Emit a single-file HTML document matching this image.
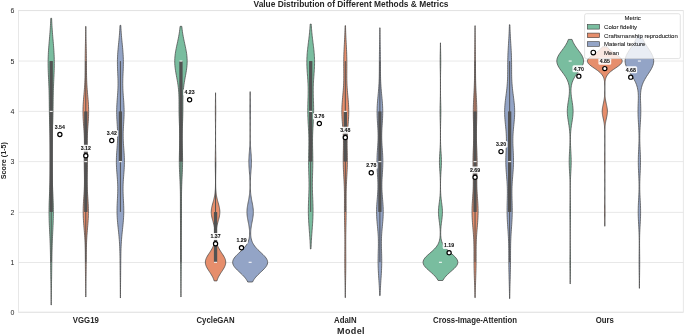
<!DOCTYPE html>
<html><head><meta charset="utf-8"><style>
html,body{margin:0;padding:0;background:#fff;}
svg{display:block;filter:blur(0.3px);}
text{font-family:"Liberation Sans",Arial,sans-serif;fill:#262626;}
.tk{font-size:7px;}
.xt{font-size:7.8px;font-weight:bold;text-anchor:middle;}
.ttl{font-size:8.4px;font-weight:bold;text-anchor:middle;}
.lab{font-size:8.8px;font-weight:bold;text-anchor:middle;}
.ml{font-size:5.2px;font-weight:bold;text-anchor:middle;fill:#111;stroke:#111;stroke-width:0.08px;}
.lg{font-size:6px;fill:#1a1a1a;stroke:#1a1a1a;stroke-width:0.08px;}
</style></head><body>
<svg width="685" height="335" viewBox="0 0 685 335">
<rect x="0" y="0" width="685" height="335" fill="#fff"/>
<line x1="18.4" x2="683.3" y1="312.25" y2="312.25" stroke="#e2e2e2" stroke-width="0.8"/>
<text x="14.3" y="314.75" text-anchor="end" class="tk">0</text>
<line x1="18.4" x2="683.3" y1="262.50" y2="262.50" stroke="#e2e2e2" stroke-width="0.8"/>
<text x="14.3" y="265.00" text-anchor="end" class="tk">1</text>
<line x1="18.4" x2="683.3" y1="212.40" y2="212.40" stroke="#e2e2e2" stroke-width="0.8"/>
<text x="14.3" y="214.90" text-anchor="end" class="tk">2</text>
<line x1="18.4" x2="683.3" y1="161.60" y2="161.60" stroke="#e2e2e2" stroke-width="0.8"/>
<text x="14.3" y="164.10" text-anchor="end" class="tk">3</text>
<line x1="18.4" x2="683.3" y1="111.40" y2="111.40" stroke="#e2e2e2" stroke-width="0.8"/>
<text x="14.3" y="113.90" text-anchor="end" class="tk">4</text>
<line x1="18.4" x2="683.3" y1="61.06" y2="61.06" stroke="#e2e2e2" stroke-width="0.8"/>
<text x="14.3" y="63.56" text-anchor="end" class="tk">5</text>
<line x1="18.4" x2="683.3" y1="10.60" y2="10.60" stroke="#e2e2e2" stroke-width="0.8"/>
<text x="14.3" y="13.10" text-anchor="end" class="tk">6</text>
<rect x="18.4" y="10.6" width="664.9" height="301.65" fill="none" stroke="#e2e2e2" stroke-width="0.8"/>
<path d="M51.27,305.05 L51.28,303.25 L51.29,301.45 L51.31,299.64 L51.33,297.84 L51.34,296.04 L51.37,294.23 L51.39,292.43 L51.41,290.62 L51.43,288.82 L51.46,287.02 L51.49,285.21 L51.51,283.41 L51.54,281.61 L51.57,279.80 L51.60,278.00 L51.63,276.20 L51.66,274.39 L51.68,272.59 L51.71,270.79 L51.74,268.98 L51.76,267.18 L51.79,265.38 L51.81,263.57 L51.84,261.77 L51.87,259.96 L51.89,258.16 L51.92,256.36 L51.96,254.55 L51.99,252.75 L52.03,250.95 L52.08,249.14 L52.13,247.34 L52.18,245.54 L52.24,243.73 L52.31,241.93 L52.38,240.13 L52.45,238.32 L52.53,236.52 L52.61,234.71 L52.70,232.91 L52.78,231.11 L52.87,229.30 L52.95,227.50 L53.03,225.70 L53.11,223.89 L53.17,222.09 L53.23,220.29 L53.28,218.48 L53.32,216.68 L53.35,214.88 L53.37,213.07 L53.37,211.27 L53.36,209.46 L53.34,207.66 L53.30,205.86 L53.26,204.05 L53.20,202.25 L53.14,200.45 L53.07,198.64 L52.99,196.84 L52.92,195.04 L52.84,193.23 L52.75,191.43 L52.67,189.63 L52.60,187.82 L52.52,186.02 L52.45,184.21 L52.39,182.41 L52.33,180.61 L52.28,178.80 L52.23,177.00 L52.19,175.20 L52.15,173.39 L52.12,171.59 L52.10,169.79 L52.08,167.98 L52.06,166.18 L52.05,164.38 L52.04,162.57 L52.03,160.77 L52.03,158.96 L52.03,157.16 L52.03,155.36 L52.04,153.55 L52.05,151.75 L52.06,149.95 L52.08,148.14 L52.10,146.34 L52.13,144.54 L52.16,142.73 L52.20,140.93 L52.24,139.13 L52.29,137.32 L52.34,135.52 L52.39,133.71 L52.45,131.91 L52.51,130.11 L52.57,128.30 L52.63,126.50 L52.69,124.70 L52.75,122.89 L52.80,121.09 L52.85,119.29 L52.90,117.48 L52.94,115.68 L52.98,113.88 L53.01,112.07 L53.04,110.27 L53.07,108.46 L53.09,106.66 L53.11,104.86 L53.13,103.05 L53.15,101.25 L53.18,99.45 L53.20,97.64 L53.23,95.84 L53.27,94.04 L53.31,92.23 L53.36,90.43 L53.42,88.63 L53.48,86.82 L53.55,85.02 L53.63,83.21 L53.71,81.41 L53.79,79.61 L53.87,77.80 L53.96,76.00 L54.04,74.20 L54.11,72.39 L54.18,70.59 L54.23,68.79 L54.27,66.98 L54.30,65.18 L54.31,63.38 L54.31,61.57 L54.28,59.77 L54.24,57.96 L54.18,56.16 L54.10,54.36 L54.01,52.55 L53.90,50.75 L53.78,48.95 L53.65,47.14 L53.50,45.34 L53.36,43.54 L53.20,41.73 L53.05,39.93 L52.89,38.13 L52.74,36.32 L52.59,34.52 L52.45,32.72 L52.31,30.91 L52.18,29.11 L52.06,27.30 L51.95,25.50 L51.85,23.70 L51.76,21.89 L51.68,20.09 L51.61,18.29 L50.79,18.29 L50.72,20.09 L50.64,21.89 L50.55,23.70 L50.45,25.50 L50.34,27.30 L50.22,29.11 L50.09,30.91 L49.95,32.72 L49.81,34.52 L49.66,36.32 L49.51,38.13 L49.35,39.93 L49.20,41.73 L49.04,43.54 L48.90,45.34 L48.75,47.14 L48.62,48.95 L48.50,50.75 L48.39,52.55 L48.30,54.36 L48.22,56.16 L48.16,57.96 L48.12,59.77 L48.09,61.57 L48.09,63.38 L48.10,65.18 L48.13,66.98 L48.17,68.79 L48.22,70.59 L48.29,72.39 L48.36,74.20 L48.44,76.00 L48.53,77.80 L48.61,79.61 L48.69,81.41 L48.77,83.21 L48.85,85.02 L48.92,86.82 L48.98,88.63 L49.04,90.43 L49.09,92.23 L49.13,94.04 L49.17,95.84 L49.20,97.64 L49.22,99.45 L49.25,101.25 L49.27,103.05 L49.29,104.86 L49.31,106.66 L49.33,108.46 L49.36,110.27 L49.39,112.07 L49.42,113.88 L49.46,115.68 L49.50,117.48 L49.55,119.29 L49.60,121.09 L49.65,122.89 L49.71,124.70 L49.77,126.50 L49.83,128.30 L49.89,130.11 L49.95,131.91 L50.01,133.71 L50.06,135.52 L50.11,137.32 L50.16,139.13 L50.20,140.93 L50.24,142.73 L50.27,144.54 L50.30,146.34 L50.32,148.14 L50.34,149.95 L50.35,151.75 L50.36,153.55 L50.37,155.36 L50.37,157.16 L50.37,158.96 L50.37,160.77 L50.36,162.57 L50.35,164.38 L50.34,166.18 L50.32,167.98 L50.30,169.79 L50.28,171.59 L50.25,173.39 L50.21,175.20 L50.17,177.00 L50.12,178.80 L50.07,180.61 L50.01,182.41 L49.95,184.21 L49.88,186.02 L49.80,187.82 L49.73,189.63 L49.65,191.43 L49.56,193.23 L49.48,195.04 L49.41,196.84 L49.33,198.64 L49.26,200.45 L49.20,202.25 L49.14,204.05 L49.10,205.86 L49.06,207.66 L49.04,209.46 L49.03,211.27 L49.03,213.07 L49.05,214.88 L49.08,216.68 L49.12,218.48 L49.17,220.29 L49.23,222.09 L49.29,223.89 L49.37,225.70 L49.45,227.50 L49.53,229.30 L49.62,231.11 L49.70,232.91 L49.79,234.71 L49.87,236.52 L49.95,238.32 L50.02,240.13 L50.09,241.93 L50.16,243.73 L50.22,245.54 L50.27,247.34 L50.32,249.14 L50.37,250.95 L50.41,252.75 L50.44,254.55 L50.48,256.36 L50.51,258.16 L50.53,259.96 L50.56,261.77 L50.59,263.57 L50.61,265.38 L50.64,267.18 L50.66,268.98 L50.69,270.79 L50.72,272.59 L50.74,274.39 L50.77,276.20 L50.80,278.00 L50.83,279.80 L50.86,281.61 L50.89,283.41 L50.91,285.21 L50.94,287.02 L50.97,288.82 L50.99,290.62 L51.01,292.43 L51.03,294.23 L51.06,296.04 L51.07,297.84 L51.09,299.64 L51.11,301.45 L51.12,303.25 L51.13,305.05 Z" fill="#79bd9f" stroke="#4a4a4a" stroke-width="0.75" stroke-linejoin="round"/>
<line x1="51.20" x2="51.20" y1="61.05" y2="262.29" stroke="#525252" stroke-width="1.0"/>
<line x1="51.20" x2="51.20" y1="61.05" y2="211.98" stroke="#525252" stroke-width="3.3"/>
<line x1="49.70" x2="52.70" y1="111.36" y2="111.36" stroke="#ffffff" stroke-width="1.0"/>
<path d="M85.85,297.00 L85.87,295.30 L85.88,293.60 L85.89,291.90 L85.91,290.19 L85.93,288.49 L85.95,286.79 L85.97,285.09 L85.99,283.39 L86.02,281.68 L86.04,279.98 L86.06,278.28 L86.09,276.58 L86.11,274.87 L86.13,273.17 L86.16,271.47 L86.17,269.77 L86.19,268.06 L86.21,266.36 L86.22,264.66 L86.23,262.96 L86.25,261.26 L86.26,259.55 L86.27,257.85 L86.28,256.15 L86.29,254.45 L86.31,252.74 L86.33,251.04 L86.36,249.34 L86.40,247.64 L86.44,245.93 L86.50,244.23 L86.56,242.53 L86.64,240.83 L86.73,239.13 L86.83,237.42 L86.94,235.72 L87.07,234.02 L87.20,232.32 L87.34,230.61 L87.48,228.91 L87.62,227.21 L87.76,225.51 L87.90,223.80 L88.02,222.10 L88.14,220.40 L88.24,218.70 L88.32,217.00 L88.38,215.29 L88.41,213.59 L88.43,211.89 L88.42,210.19 L88.39,208.48 L88.34,206.78 L88.27,205.08 L88.18,203.38 L88.09,201.67 L87.98,199.97 L87.87,198.27 L87.75,196.57 L87.64,194.87 L87.53,193.16 L87.44,191.46 L87.35,189.76 L87.28,188.06 L87.22,186.35 L87.18,184.65 L87.15,182.95 L87.14,181.25 L87.14,179.54 L87.15,177.84 L87.17,176.14 L87.20,174.44 L87.23,172.74 L87.27,171.03 L87.30,169.33 L87.33,167.63 L87.35,165.93 L87.37,164.22 L87.38,162.52 L87.38,160.82 L87.37,159.12 L87.36,157.41 L87.33,155.71 L87.31,154.01 L87.28,152.31 L87.25,150.60 L87.22,148.90 L87.19,147.20 L87.18,145.50 L87.17,143.80 L87.18,142.09 L87.20,140.39 L87.24,138.69 L87.29,136.99 L87.36,135.28 L87.44,133.58 L87.54,131.88 L87.65,130.18 L87.76,128.47 L87.89,126.77 L88.01,125.07 L88.14,123.37 L88.25,121.67 L88.36,119.96 L88.46,118.26 L88.53,116.56 L88.59,114.86 L88.62,113.15 L88.63,111.45 L88.62,109.75 L88.58,108.05 L88.51,106.34 L88.43,104.64 L88.33,102.94 L88.21,101.24 L88.07,99.54 L87.93,97.83 L87.78,96.13 L87.64,94.43 L87.49,92.73 L87.34,91.02 L87.21,89.32 L87.08,87.62 L86.97,85.92 L86.87,84.21 L86.78,82.51 L86.71,80.81 L86.65,79.11 L86.60,77.41 L86.56,75.70 L86.53,74.00 L86.51,72.30 L86.49,70.60 L86.48,68.89 L86.47,67.19 L86.47,65.49 L86.46,63.79 L86.45,62.08 L86.44,60.38 L86.42,58.68 L86.40,56.98 L86.38,55.28 L86.36,53.57 L86.33,51.87 L86.30,50.17 L86.27,48.47 L86.23,46.76 L86.19,45.06 L86.16,43.36 L86.12,41.66 L86.09,39.95 L86.05,38.25 L86.02,36.55 L85.99,34.85 L85.96,33.15 L85.94,31.44 L85.92,29.74 L85.90,28.04 L85.88,26.34 L85.72,26.34 L85.70,28.04 L85.68,29.74 L85.66,31.44 L85.64,33.15 L85.61,34.85 L85.58,36.55 L85.55,38.25 L85.51,39.95 L85.48,41.66 L85.44,43.36 L85.41,45.06 L85.37,46.76 L85.33,48.47 L85.30,50.17 L85.27,51.87 L85.24,53.57 L85.22,55.28 L85.20,56.98 L85.18,58.68 L85.16,60.38 L85.15,62.08 L85.14,63.79 L85.13,65.49 L85.13,67.19 L85.12,68.89 L85.11,70.60 L85.09,72.30 L85.07,74.00 L85.04,75.70 L85.00,77.41 L84.95,79.11 L84.89,80.81 L84.82,82.51 L84.73,84.21 L84.63,85.92 L84.52,87.62 L84.39,89.32 L84.26,91.02 L84.11,92.73 L83.96,94.43 L83.82,96.13 L83.67,97.83 L83.53,99.54 L83.39,101.24 L83.27,102.94 L83.17,104.64 L83.09,106.34 L83.02,108.05 L82.98,109.75 L82.97,111.45 L82.98,113.15 L83.01,114.86 L83.07,116.56 L83.14,118.26 L83.24,119.96 L83.35,121.67 L83.46,123.37 L83.59,125.07 L83.71,126.77 L83.84,128.47 L83.95,130.18 L84.06,131.88 L84.16,133.58 L84.24,135.28 L84.31,136.99 L84.36,138.69 L84.40,140.39 L84.42,142.09 L84.43,143.80 L84.42,145.50 L84.41,147.20 L84.38,148.90 L84.35,150.60 L84.32,152.31 L84.29,154.01 L84.27,155.71 L84.24,157.41 L84.23,159.12 L84.22,160.82 L84.22,162.52 L84.23,164.22 L84.25,165.93 L84.27,167.63 L84.30,169.33 L84.33,171.03 L84.37,172.74 L84.40,174.44 L84.43,176.14 L84.45,177.84 L84.46,179.54 L84.46,181.25 L84.45,182.95 L84.42,184.65 L84.38,186.35 L84.32,188.06 L84.25,189.76 L84.16,191.46 L84.07,193.16 L83.96,194.87 L83.85,196.57 L83.73,198.27 L83.62,199.97 L83.51,201.67 L83.42,203.38 L83.33,205.08 L83.26,206.78 L83.21,208.48 L83.18,210.19 L83.17,211.89 L83.19,213.59 L83.22,215.29 L83.28,217.00 L83.36,218.70 L83.46,220.40 L83.58,222.10 L83.70,223.80 L83.84,225.51 L83.98,227.21 L84.12,228.91 L84.26,230.61 L84.40,232.32 L84.53,234.02 L84.66,235.72 L84.77,237.42 L84.87,239.13 L84.96,240.83 L85.04,242.53 L85.10,244.23 L85.16,245.93 L85.20,247.64 L85.24,249.34 L85.27,251.04 L85.29,252.74 L85.31,254.45 L85.32,256.15 L85.33,257.85 L85.34,259.55 L85.35,261.26 L85.37,262.96 L85.38,264.66 L85.39,266.36 L85.41,268.06 L85.43,269.77 L85.44,271.47 L85.47,273.17 L85.49,274.87 L85.51,276.58 L85.54,278.28 L85.56,279.98 L85.58,281.68 L85.61,283.39 L85.63,285.09 L85.65,286.79 L85.67,288.49 L85.69,290.19 L85.71,291.90 L85.72,293.60 L85.73,295.30 L85.75,297.00 Z" fill="#e68e6c" stroke="#4a4a4a" stroke-width="0.75" stroke-linejoin="round"/>
<line x1="85.80" x2="85.80" y1="61.05" y2="262.29" stroke="#525252" stroke-width="1.0"/>
<line x1="85.80" x2="85.80" y1="111.36" y2="211.98" stroke="#525252" stroke-width="3.3"/>
<line x1="84.30" x2="87.30" y1="161.67" y2="161.67" stroke="#ffffff" stroke-width="1.0"/>
<path d="M120.44,298.01 L120.45,296.30 L120.46,294.58 L120.47,292.87 L120.48,291.15 L120.49,289.44 L120.51,287.72 L120.52,286.01 L120.54,284.29 L120.56,282.58 L120.58,280.86 L120.59,279.15 L120.61,277.43 L120.63,275.72 L120.65,274.00 L120.67,272.29 L120.68,270.57 L120.70,268.86 L120.72,267.14 L120.73,265.43 L120.75,263.71 L120.77,262.00 L120.78,260.28 L120.80,258.57 L120.83,256.85 L120.85,255.14 L120.89,253.42 L120.93,251.71 L120.98,249.99 L121.04,248.28 L121.11,246.56 L121.19,244.85 L121.29,243.13 L121.40,241.42 L121.52,239.70 L121.66,237.99 L121.81,236.27 L121.98,234.56 L122.15,232.84 L122.33,231.13 L122.51,229.41 L122.69,227.70 L122.87,225.98 L123.04,224.27 L123.21,222.55 L123.35,220.84 L123.48,219.12 L123.59,217.41 L123.68,215.69 L123.74,213.98 L123.78,212.26 L123.79,210.55 L123.77,208.83 L123.74,207.12 L123.68,205.40 L123.61,203.69 L123.53,201.97 L123.44,200.26 L123.35,198.54 L123.26,196.83 L123.19,195.11 L123.13,193.40 L123.08,191.68 L123.06,189.97 L123.05,188.25 L123.08,186.54 L123.12,184.82 L123.19,183.11 L123.28,181.39 L123.39,179.68 L123.51,177.96 L123.65,176.25 L123.78,174.53 L123.92,172.82 L124.05,171.10 L124.16,169.39 L124.26,167.67 L124.34,165.96 L124.40,164.24 L124.43,162.53 L124.43,160.81 L124.40,159.10 L124.35,157.38 L124.27,155.67 L124.18,153.95 L124.07,152.24 L123.94,150.52 L123.82,148.81 L123.69,147.09 L123.56,145.38 L123.45,143.66 L123.35,141.95 L123.27,140.23 L123.22,138.52 L123.19,136.80 L123.18,135.09 L123.20,133.37 L123.24,131.66 L123.30,129.94 L123.38,128.23 L123.48,126.51 L123.58,124.80 L123.69,123.08 L123.79,121.37 L123.89,119.65 L123.98,117.94 L124.05,116.22 L124.10,114.51 L124.12,112.79 L124.13,111.08 L124.11,109.36 L124.06,107.65 L123.99,105.93 L123.90,104.22 L123.80,102.50 L123.68,100.79 L123.55,99.07 L123.42,97.36 L123.29,95.64 L123.17,93.93 L123.06,92.21 L122.97,90.50 L122.89,88.78 L122.83,87.07 L122.80,85.35 L122.78,83.64 L122.79,81.92 L122.82,80.21 L122.86,78.49 L122.92,76.78 L122.99,75.06 L123.06,73.35 L123.14,71.63 L123.21,69.92 L123.27,68.20 L123.32,66.49 L123.36,64.77 L123.37,63.06 L123.37,61.34 L123.35,59.63 L123.30,57.91 L123.23,56.20 L123.13,54.48 L123.02,52.77 L122.89,51.05 L122.75,49.34 L122.59,47.62 L122.43,45.91 L122.26,44.19 L122.09,42.48 L121.92,40.76 L121.76,39.05 L121.60,37.33 L121.45,35.62 L121.31,33.90 L121.19,32.19 L121.07,30.47 L120.97,28.76 L120.87,27.04 L120.79,25.33 L120.01,25.33 L119.93,27.04 L119.83,28.76 L119.73,30.47 L119.61,32.19 L119.49,33.90 L119.35,35.62 L119.20,37.33 L119.04,39.05 L118.88,40.76 L118.71,42.48 L118.54,44.19 L118.37,45.91 L118.21,47.62 L118.05,49.34 L117.91,51.05 L117.78,52.77 L117.67,54.48 L117.57,56.20 L117.50,57.91 L117.45,59.63 L117.43,61.34 L117.43,63.06 L117.44,64.77 L117.48,66.49 L117.53,68.20 L117.59,69.92 L117.66,71.63 L117.74,73.35 L117.81,75.06 L117.88,76.78 L117.94,78.49 L117.98,80.21 L118.01,81.92 L118.02,83.64 L118.00,85.35 L117.97,87.07 L117.91,88.78 L117.83,90.50 L117.74,92.21 L117.63,93.93 L117.51,95.64 L117.38,97.36 L117.25,99.07 L117.12,100.79 L117.00,102.50 L116.90,104.22 L116.81,105.93 L116.74,107.65 L116.69,109.36 L116.67,111.08 L116.68,112.79 L116.70,114.51 L116.75,116.22 L116.82,117.94 L116.91,119.65 L117.01,121.37 L117.11,123.08 L117.22,124.80 L117.32,126.51 L117.42,128.23 L117.50,129.94 L117.56,131.66 L117.60,133.37 L117.62,135.09 L117.61,136.80 L117.58,138.52 L117.53,140.23 L117.45,141.95 L117.35,143.66 L117.24,145.38 L117.11,147.09 L116.98,148.81 L116.86,150.52 L116.73,152.24 L116.62,153.95 L116.53,155.67 L116.45,157.38 L116.40,159.10 L116.37,160.81 L116.37,162.53 L116.40,164.24 L116.46,165.96 L116.54,167.67 L116.64,169.39 L116.75,171.10 L116.88,172.82 L117.02,174.53 L117.15,176.25 L117.29,177.96 L117.41,179.68 L117.52,181.39 L117.61,183.11 L117.68,184.82 L117.72,186.54 L117.75,188.25 L117.74,189.97 L117.72,191.68 L117.67,193.40 L117.61,195.11 L117.54,196.83 L117.45,198.54 L117.36,200.26 L117.27,201.97 L117.19,203.69 L117.12,205.40 L117.06,207.12 L117.03,208.83 L117.01,210.55 L117.02,212.26 L117.06,213.98 L117.12,215.69 L117.21,217.41 L117.32,219.12 L117.45,220.84 L117.59,222.55 L117.76,224.27 L117.93,225.98 L118.11,227.70 L118.29,229.41 L118.47,231.13 L118.65,232.84 L118.82,234.56 L118.99,236.27 L119.14,237.99 L119.28,239.70 L119.40,241.42 L119.51,243.13 L119.61,244.85 L119.69,246.56 L119.76,248.28 L119.82,249.99 L119.87,251.71 L119.91,253.42 L119.95,255.14 L119.97,256.85 L120.00,258.57 L120.02,260.28 L120.03,262.00 L120.05,263.71 L120.07,265.43 L120.08,267.14 L120.10,268.86 L120.12,270.57 L120.13,272.29 L120.15,274.00 L120.17,275.72 L120.19,277.43 L120.21,279.15 L120.22,280.86 L120.24,282.58 L120.26,284.29 L120.28,286.01 L120.29,287.72 L120.31,289.44 L120.32,291.15 L120.33,292.87 L120.34,294.58 L120.35,296.30 L120.36,298.01 Z" fill="#93a4c6" stroke="#4a4a4a" stroke-width="0.75" stroke-linejoin="round"/>
<line x1="120.40" x2="120.40" y1="61.05" y2="211.98" stroke="#525252" stroke-width="1.0"/>
<line x1="120.40" x2="120.40" y1="111.36" y2="161.67" stroke="#525252" stroke-width="3.3"/>
<line x1="118.90" x2="121.90" y1="161.67" y2="161.67" stroke="#ffffff" stroke-width="1.0"/>
<path d="M180.99,297.00 L181.00,295.30 L181.01,293.60 L181.02,291.90 L181.03,290.19 L181.05,288.49 L181.06,286.79 L181.08,285.09 L181.09,283.39 L181.11,281.68 L181.13,279.98 L181.15,278.28 L181.16,276.58 L181.18,274.87 L181.20,273.17 L181.21,271.47 L181.23,269.77 L181.24,268.06 L181.25,266.36 L181.25,264.66 L181.26,262.96 L181.26,261.26 L181.26,259.55 L181.26,257.85 L181.25,256.15 L181.25,254.45 L181.24,252.74 L181.23,251.04 L181.23,249.34 L181.22,247.64 L181.22,245.93 L181.21,244.23 L181.21,242.53 L181.22,240.83 L181.22,239.13 L181.23,237.42 L181.24,235.72 L181.25,234.02 L181.27,232.32 L181.29,230.61 L181.31,228.91 L181.33,227.21 L181.35,225.51 L181.37,223.80 L181.40,222.10 L181.42,220.40 L181.43,218.70 L181.45,217.00 L181.46,215.29 L181.47,213.59 L181.48,211.89 L181.48,210.19 L181.48,208.48 L181.48,206.78 L181.48,205.08 L181.48,203.38 L181.48,201.67 L181.48,199.97 L181.49,198.27 L181.50,196.57 L181.51,194.87 L181.54,193.16 L181.57,191.46 L181.60,189.76 L181.65,188.06 L181.70,186.35 L181.76,184.65 L181.83,182.95 L181.90,181.25 L181.98,179.54 L182.06,177.84 L182.14,176.14 L182.22,174.44 L182.30,172.74 L182.37,171.03 L182.43,169.33 L182.49,167.63 L182.53,165.93 L182.56,164.22 L182.58,162.52 L182.59,160.82 L182.58,159.12 L182.56,157.41 L182.53,155.71 L182.49,154.01 L182.45,152.31 L182.40,150.60 L182.34,148.90 L182.29,147.20 L182.25,145.50 L182.21,143.80 L182.17,142.09 L182.15,140.39 L182.14,138.69 L182.14,136.99 L182.15,135.28 L182.18,133.58 L182.21,131.88 L182.26,130.18 L182.32,128.47 L182.38,126.77 L182.45,125.07 L182.52,123.37 L182.59,121.67 L182.65,119.96 L182.71,118.26 L182.76,116.56 L182.81,114.86 L182.84,113.15 L182.87,111.45 L182.88,109.75 L182.89,108.05 L182.89,106.34 L182.89,104.64 L182.89,102.94 L182.90,101.24 L182.91,99.54 L182.94,97.83 L182.98,96.13 L183.05,94.43 L183.13,92.73 L183.25,91.02 L183.40,89.32 L183.58,87.62 L183.79,85.92 L184.02,84.21 L184.29,82.51 L184.58,80.81 L184.88,79.11 L185.19,77.41 L185.51,75.70 L185.82,74.00 L186.12,72.30 L186.39,70.60 L186.64,68.89 L186.84,67.19 L187.01,65.49 L187.12,63.79 L187.17,62.08 L187.17,60.38 L187.11,58.68 L186.99,56.98 L186.83,55.28 L186.61,53.57 L186.35,51.87 L186.05,50.17 L185.72,48.47 L185.37,46.76 L185.01,45.06 L184.64,43.36 L184.27,41.66 L183.91,39.95 L183.57,38.25 L183.24,36.55 L182.93,34.85 L182.65,33.15 L182.40,31.44 L182.17,29.74 L181.97,28.04 L181.79,26.34 L180.11,26.34 L179.93,28.04 L179.73,29.74 L179.50,31.44 L179.25,33.15 L178.97,34.85 L178.66,36.55 L178.33,38.25 L177.99,39.95 L177.63,41.66 L177.26,43.36 L176.89,45.06 L176.53,46.76 L176.18,48.47 L175.85,50.17 L175.55,51.87 L175.29,53.57 L175.07,55.28 L174.91,56.98 L174.79,58.68 L174.73,60.38 L174.73,62.08 L174.78,63.79 L174.89,65.49 L175.06,67.19 L175.26,68.89 L175.51,70.60 L175.78,72.30 L176.08,74.00 L176.39,75.70 L176.71,77.41 L177.02,79.11 L177.32,80.81 L177.61,82.51 L177.88,84.21 L178.11,85.92 L178.32,87.62 L178.50,89.32 L178.65,91.02 L178.77,92.73 L178.85,94.43 L178.92,96.13 L178.96,97.83 L178.99,99.54 L179.00,101.24 L179.01,102.94 L179.01,104.64 L179.01,106.34 L179.01,108.05 L179.02,109.75 L179.03,111.45 L179.06,113.15 L179.09,114.86 L179.14,116.56 L179.19,118.26 L179.25,119.96 L179.31,121.67 L179.38,123.37 L179.45,125.07 L179.52,126.77 L179.58,128.47 L179.64,130.18 L179.69,131.88 L179.72,133.58 L179.75,135.28 L179.76,136.99 L179.76,138.69 L179.75,140.39 L179.73,142.09 L179.69,143.80 L179.65,145.50 L179.61,147.20 L179.56,148.90 L179.50,150.60 L179.45,152.31 L179.41,154.01 L179.37,155.71 L179.34,157.41 L179.32,159.12 L179.31,160.82 L179.32,162.52 L179.34,164.22 L179.37,165.93 L179.41,167.63 L179.47,169.33 L179.53,171.03 L179.60,172.74 L179.68,174.44 L179.76,176.14 L179.84,177.84 L179.92,179.54 L180.00,181.25 L180.07,182.95 L180.14,184.65 L180.20,186.35 L180.25,188.06 L180.30,189.76 L180.33,191.46 L180.36,193.16 L180.39,194.87 L180.40,196.57 L180.41,198.27 L180.42,199.97 L180.42,201.67 L180.42,203.38 L180.42,205.08 L180.42,206.78 L180.42,208.48 L180.42,210.19 L180.42,211.89 L180.43,213.59 L180.44,215.29 L180.45,217.00 L180.47,218.70 L180.48,220.40 L180.50,222.10 L180.53,223.80 L180.55,225.51 L180.57,227.21 L180.59,228.91 L180.61,230.61 L180.63,232.32 L180.65,234.02 L180.66,235.72 L180.67,237.42 L180.68,239.13 L180.68,240.83 L180.69,242.53 L180.69,244.23 L180.68,245.93 L180.68,247.64 L180.67,249.34 L180.67,251.04 L180.66,252.74 L180.65,254.45 L180.65,256.15 L180.64,257.85 L180.64,259.55 L180.64,261.26 L180.64,262.96 L180.65,264.66 L180.65,266.36 L180.66,268.06 L180.67,269.77 L180.69,271.47 L180.70,273.17 L180.72,274.87 L180.74,276.58 L180.75,278.28 L180.77,279.98 L180.79,281.68 L180.81,283.39 L180.82,285.09 L180.84,286.79 L180.85,288.49 L180.87,290.19 L180.88,291.90 L180.89,293.60 L180.90,295.30 L180.91,297.00 Z" fill="#79bd9f" stroke="#4a4a4a" stroke-width="0.75" stroke-linejoin="round"/>
<line x1="180.95" x2="180.95" y1="61.05" y2="262.29" stroke="#525252" stroke-width="1.0"/>
<line x1="180.95" x2="180.95" y1="61.05" y2="161.67" stroke="#525252" stroke-width="3.3"/>
<line x1="179.45" x2="182.45" y1="61.05" y2="61.05" stroke="#ffffff" stroke-width="1.0"/>
<path d="M216.93,280.90 L217.32,279.72 L217.77,278.54 L218.30,277.35 L218.90,276.17 L219.57,274.99 L220.30,273.80 L221.06,272.62 L221.84,271.44 L222.62,270.25 L223.37,269.07 L224.06,267.89 L224.67,266.70 L225.15,265.52 L225.51,264.34 L225.71,263.15 L225.74,261.97 L225.62,260.79 L225.33,259.60 L224.91,258.42 L224.35,257.24 L223.70,256.05 L222.97,254.87 L222.20,253.69 L221.42,252.50 L220.64,251.32 L219.90,250.14 L219.21,248.95 L218.57,247.77 L218.01,246.59 L217.52,245.40 L217.11,244.22 L216.77,243.04 L216.49,241.85 L216.27,240.67 L216.11,239.49 L216.00,238.30 L215.93,237.12 L215.89,235.94 L215.89,234.75 L215.93,233.57 L216.00,232.39 L216.10,231.20 L216.23,230.02 L216.40,228.84 L216.60,227.65 L216.84,226.47 L217.10,225.29 L217.39,224.10 L217.71,222.92 L218.03,221.74 L218.36,220.55 L218.69,219.37 L218.99,218.18 L219.27,217.00 L219.50,215.82 L219.68,214.63 L219.80,213.45 L219.85,212.27 L219.83,211.08 L219.74,209.90 L219.59,208.72 L219.39,207.53 L219.13,206.35 L218.84,205.17 L218.52,203.98 L218.19,202.80 L217.86,201.62 L217.54,200.43 L217.24,199.25 L216.96,198.07 L216.70,196.88 L216.48,195.70 L216.29,194.52 L216.13,193.33 L216.00,192.15 L215.89,190.97 L215.80,189.78 L215.74,188.60 L215.69,187.42 L215.65,186.23 L215.63,185.05 L215.61,183.87 L215.60,182.68 L215.60,181.50 L215.60,180.32 L215.61,179.13 L215.62,177.95 L215.63,176.77 L215.65,175.58 L215.67,174.40 L215.69,173.22 L215.71,172.03 L215.73,170.85 L215.76,169.67 L215.78,168.48 L215.80,167.30 L215.82,166.12 L215.83,164.93 L215.84,163.75 L215.85,162.57 L215.85,161.38 L215.85,160.20 L215.84,159.02 L215.83,157.83 L215.81,156.65 L215.79,155.47 L215.77,154.28 L215.75,153.10 L215.72,151.91 L215.70,150.73 L215.68,149.55 L215.66,148.36 L215.64,147.18 L215.62,146.00 L215.61,144.81 L215.60,143.63 L215.59,142.45 L215.58,141.26 L215.57,140.08 L215.57,138.90 L215.56,137.71 L215.56,136.53 L215.56,135.35 L215.56,134.16 L215.57,132.98 L215.57,131.80 L215.57,130.61 L215.58,129.43 L215.59,128.25 L215.60,127.06 L215.61,125.88 L215.62,124.70 L215.64,123.51 L215.65,122.33 L215.67,121.15 L215.68,119.96 L215.70,118.78 L215.71,117.60 L215.72,116.41 L215.73,115.23 L215.74,114.05 L215.75,112.86 L215.75,111.68 L215.75,110.50 L215.75,109.31 L215.74,108.13 L215.73,106.95 L215.72,105.76 L215.70,104.58 L215.69,103.40 L215.67,102.21 L215.66,101.03 L215.64,99.85 L215.63,98.66 L215.62,97.48 L215.60,96.30 L215.59,95.11 L215.58,93.93 L215.58,92.75 L215.52,92.75 L215.52,93.93 L215.51,95.11 L215.50,96.30 L215.48,97.48 L215.47,98.66 L215.46,99.85 L215.44,101.03 L215.43,102.21 L215.41,103.40 L215.40,104.58 L215.38,105.76 L215.37,106.95 L215.36,108.13 L215.35,109.31 L215.35,110.50 L215.35,111.68 L215.35,112.86 L215.36,114.05 L215.37,115.23 L215.38,116.41 L215.39,117.60 L215.40,118.78 L215.42,119.96 L215.43,121.15 L215.45,122.33 L215.46,123.51 L215.48,124.70 L215.49,125.88 L215.50,127.06 L215.51,128.25 L215.52,129.43 L215.53,130.61 L215.53,131.80 L215.53,132.98 L215.54,134.16 L215.54,135.35 L215.54,136.53 L215.54,137.71 L215.53,138.90 L215.53,140.08 L215.52,141.26 L215.51,142.45 L215.50,143.63 L215.49,144.81 L215.48,146.00 L215.46,147.18 L215.44,148.36 L215.42,149.55 L215.40,150.73 L215.38,151.91 L215.35,153.10 L215.33,154.28 L215.31,155.47 L215.29,156.65 L215.27,157.83 L215.26,159.02 L215.25,160.20 L215.25,161.38 L215.25,162.57 L215.26,163.75 L215.27,164.93 L215.28,166.12 L215.30,167.30 L215.32,168.48 L215.34,169.67 L215.37,170.85 L215.39,172.03 L215.41,173.22 L215.43,174.40 L215.45,175.58 L215.47,176.77 L215.48,177.95 L215.49,179.13 L215.50,180.32 L215.50,181.50 L215.50,182.68 L215.49,183.87 L215.47,185.05 L215.45,186.23 L215.41,187.42 L215.36,188.60 L215.30,189.78 L215.21,190.97 L215.10,192.15 L214.97,193.33 L214.81,194.52 L214.62,195.70 L214.40,196.88 L214.14,198.07 L213.86,199.25 L213.56,200.43 L213.24,201.62 L212.91,202.80 L212.58,203.98 L212.26,205.17 L211.97,206.35 L211.71,207.53 L211.51,208.72 L211.36,209.90 L211.27,211.08 L211.25,212.27 L211.30,213.45 L211.42,214.63 L211.60,215.82 L211.83,217.00 L212.11,218.18 L212.41,219.37 L212.74,220.55 L213.07,221.74 L213.39,222.92 L213.71,224.10 L214.00,225.29 L214.26,226.47 L214.50,227.65 L214.70,228.84 L214.87,230.02 L215.00,231.20 L215.10,232.39 L215.17,233.57 L215.21,234.75 L215.21,235.94 L215.17,237.12 L215.10,238.30 L214.99,239.49 L214.83,240.67 L214.61,241.85 L214.33,243.04 L213.99,244.22 L213.58,245.40 L213.09,246.59 L212.53,247.77 L211.89,248.95 L211.20,250.14 L210.46,251.32 L209.68,252.50 L208.90,253.69 L208.13,254.87 L207.40,256.05 L206.75,257.24 L206.19,258.42 L205.77,259.60 L205.48,260.79 L205.36,261.97 L205.39,263.15 L205.59,264.34 L205.95,265.52 L206.43,266.70 L207.04,267.89 L207.73,269.07 L208.48,270.25 L209.26,271.44 L210.04,272.62 L210.80,273.80 L211.53,274.99 L212.20,276.17 L212.80,277.35 L213.33,278.54 L213.78,279.72 L214.17,280.90 Z" fill="#e68e6c" stroke="#4a4a4a" stroke-width="0.75" stroke-linejoin="round"/>
<line x1="215.55" x2="215.55" y1="161.67" y2="262.29" stroke="#525252" stroke-width="1.0"/>
<line x1="215.55" x2="215.55" y1="211.98" y2="262.29" stroke="#525252" stroke-width="3.3"/>
<line x1="214.05" x2="217.05" y1="262.29" y2="262.29" stroke="#ffffff" stroke-width="1.0"/>
<path d="M252.52,282.01 L253.15,280.81 L253.89,279.62 L254.74,278.42 L255.71,277.22 L256.78,276.02 L257.95,274.83 L259.18,273.63 L260.46,272.43 L261.75,271.24 L263.00,270.04 L264.18,268.84 L265.25,267.64 L266.16,266.45 L266.88,265.25 L267.37,264.05 L267.62,262.85 L267.61,261.66 L267.35,260.46 L266.84,259.26 L266.12,258.07 L265.19,256.87 L264.12,255.67 L262.93,254.47 L261.67,253.28 L260.39,252.08 L259.11,250.88 L257.88,249.68 L256.72,248.49 L255.66,247.29 L254.70,246.09 L253.85,244.89 L253.13,243.70 L252.51,242.50 L252.01,241.30 L251.60,240.11 L251.28,238.91 L251.04,237.71 L250.87,236.51 L250.76,235.32 L250.70,234.12 L250.69,232.92 L250.72,231.72 L250.79,230.53 L250.90,229.33 L251.03,228.13 L251.19,226.94 L251.38,225.74 L251.58,224.54 L251.80,223.34 L252.04,222.15 L252.27,220.95 L252.50,219.75 L252.71,218.55 L252.91,217.36 L253.08,216.16 L253.21,214.96 L253.30,213.76 L253.34,212.57 L253.34,211.37 L253.30,210.17 L253.20,208.98 L253.07,207.78 L252.90,206.58 L252.71,205.38 L252.49,204.19 L252.26,202.99 L252.03,201.79 L251.79,200.59 L251.57,199.40 L251.36,198.20 L251.16,197.00 L250.99,195.80 L250.83,194.61 L250.70,193.41 L250.59,192.21 L250.50,191.02 L250.43,189.82 L250.37,188.62 L250.34,187.42 L250.31,186.23 L250.30,185.03 L250.31,183.83 L250.32,182.63 L250.35,181.44 L250.39,180.24 L250.44,179.04 L250.50,177.85 L250.57,176.65 L250.64,175.45 L250.73,174.25 L250.82,173.06 L250.91,171.86 L251.01,170.66 L251.10,169.46 L251.19,168.27 L251.27,167.07 L251.34,165.87 L251.39,164.67 L251.43,163.48 L251.45,162.28 L251.45,161.08 L251.43,159.89 L251.39,158.69 L251.34,157.49 L251.27,156.29 L251.19,155.10 L251.10,153.90 L251.01,152.70 L250.91,151.50 L250.82,150.31 L250.73,149.11 L250.64,147.91 L250.56,146.71 L250.49,145.52 L250.43,144.32 L250.37,143.12 L250.33,141.93 L250.29,140.73 L250.26,139.53 L250.23,138.33 L250.22,137.14 L250.20,135.94 L250.20,134.74 L250.19,133.54 L250.19,132.35 L250.19,131.15 L250.20,129.95 L250.21,128.76 L250.22,127.56 L250.23,126.36 L250.25,125.16 L250.26,123.97 L250.28,122.77 L250.30,121.57 L250.31,120.37 L250.33,119.18 L250.35,117.98 L250.36,116.78 L250.38,115.58 L250.39,114.39 L250.40,113.19 L250.40,111.99 L250.40,110.80 L250.40,109.60 L250.39,108.40 L250.38,107.20 L250.37,106.01 L250.35,104.81 L250.33,103.61 L250.32,102.41 L250.30,101.22 L250.28,100.02 L250.26,98.82 L250.24,97.63 L250.23,96.43 L250.22,95.23 L250.20,94.03 L250.19,92.84 L250.18,91.64 L250.12,91.64 L250.11,92.84 L250.10,94.03 L250.08,95.23 L250.07,96.43 L250.06,97.63 L250.04,98.82 L250.02,100.02 L250.00,101.22 L249.98,102.41 L249.97,103.61 L249.95,104.81 L249.93,106.01 L249.92,107.20 L249.91,108.40 L249.90,109.60 L249.90,110.80 L249.90,111.99 L249.90,113.19 L249.91,114.39 L249.92,115.58 L249.94,116.78 L249.95,117.98 L249.97,119.18 L249.99,120.37 L250.00,121.57 L250.02,122.77 L250.04,123.97 L250.05,125.16 L250.07,126.36 L250.08,127.56 L250.09,128.76 L250.10,129.95 L250.11,131.15 L250.11,132.35 L250.11,133.54 L250.10,134.74 L250.10,135.94 L250.08,137.14 L250.07,138.33 L250.04,139.53 L250.01,140.73 L249.97,141.93 L249.93,143.12 L249.87,144.32 L249.81,145.52 L249.74,146.71 L249.66,147.91 L249.57,149.11 L249.48,150.31 L249.39,151.50 L249.29,152.70 L249.20,153.90 L249.11,155.10 L249.03,156.29 L248.96,157.49 L248.91,158.69 L248.87,159.89 L248.85,161.08 L248.85,162.28 L248.87,163.48 L248.91,164.67 L248.96,165.87 L249.03,167.07 L249.11,168.27 L249.20,169.46 L249.29,170.66 L249.39,171.86 L249.48,173.06 L249.57,174.25 L249.66,175.45 L249.73,176.65 L249.80,177.85 L249.86,179.04 L249.91,180.24 L249.95,181.44 L249.98,182.63 L249.99,183.83 L250.00,185.03 L249.99,186.23 L249.96,187.42 L249.93,188.62 L249.87,189.82 L249.80,191.02 L249.71,192.21 L249.60,193.41 L249.47,194.61 L249.31,195.80 L249.14,197.00 L248.94,198.20 L248.73,199.40 L248.51,200.59 L248.27,201.79 L248.04,202.99 L247.81,204.19 L247.59,205.38 L247.40,206.58 L247.23,207.78 L247.10,208.98 L247.00,210.17 L246.96,211.37 L246.96,212.57 L247.00,213.76 L247.09,214.96 L247.22,216.16 L247.39,217.36 L247.59,218.55 L247.80,219.75 L248.03,220.95 L248.26,222.15 L248.50,223.34 L248.72,224.54 L248.92,225.74 L249.11,226.94 L249.27,228.13 L249.40,229.33 L249.51,230.53 L249.58,231.72 L249.61,232.92 L249.60,234.12 L249.54,235.32 L249.43,236.51 L249.26,237.71 L249.02,238.91 L248.70,240.11 L248.29,241.30 L247.79,242.50 L247.17,243.70 L246.45,244.89 L245.60,246.09 L244.64,247.29 L243.58,248.49 L242.42,249.68 L241.19,250.88 L239.91,252.08 L238.63,253.28 L237.37,254.47 L236.18,255.67 L235.11,256.87 L234.18,258.07 L233.46,259.26 L232.95,260.46 L232.69,261.66 L232.68,262.85 L232.93,264.05 L233.42,265.25 L234.14,266.45 L235.05,267.64 L236.12,268.84 L237.30,270.04 L238.55,271.24 L239.84,272.43 L241.12,273.63 L242.35,274.83 L243.52,276.02 L244.59,277.22 L245.56,278.42 L246.41,279.62 L247.15,280.81 L247.78,282.01 Z" fill="#93a4c6" stroke="#4a4a4a" stroke-width="0.75" stroke-linejoin="round"/>
<line x1="248.65" x2="251.65" y1="262.29" y2="262.29" stroke="#ffffff" stroke-width="1.0"/>
<path d="M311.01,248.91 L311.06,247.49 L311.12,246.08 L311.18,244.67 L311.25,243.25 L311.32,241.84 L311.40,240.43 L311.49,239.01 L311.58,237.60 L311.67,236.18 L311.77,234.77 L311.88,233.36 L311.98,231.94 L312.09,230.53 L312.20,229.12 L312.30,227.70 L312.41,226.29 L312.51,224.87 L312.60,223.46 L312.69,222.05 L312.77,220.63 L312.85,219.22 L312.91,217.81 L312.96,216.39 L313.00,214.98 L313.03,213.56 L313.05,212.15 L313.05,210.74 L313.05,209.32 L313.03,207.91 L313.01,206.50 L312.97,205.08 L312.93,203.67 L312.88,202.25 L312.83,200.84 L312.77,199.43 L312.72,198.01 L312.66,196.60 L312.61,195.19 L312.56,193.77 L312.51,192.36 L312.47,190.94 L312.44,189.53 L312.42,188.12 L312.40,186.70 L312.39,185.29 L312.39,183.88 L312.40,182.46 L312.42,181.05 L312.44,179.63 L312.47,178.22 L312.51,176.81 L312.55,175.39 L312.59,173.98 L312.63,172.57 L312.67,171.15 L312.70,169.74 L312.74,168.32 L312.77,166.91 L312.79,165.50 L312.81,164.08 L312.82,162.67 L312.83,161.26 L312.82,159.84 L312.81,158.43 L312.80,157.01 L312.78,155.60 L312.75,154.19 L312.72,152.77 L312.69,151.36 L312.66,149.95 L312.63,148.53 L312.60,147.12 L312.58,145.70 L312.56,144.29 L312.55,142.88 L312.54,141.46 L312.55,140.05 L312.56,138.64 L312.58,137.22 L312.62,135.81 L312.66,134.39 L312.71,132.98 L312.77,131.57 L312.84,130.15 L312.91,128.74 L312.99,127.33 L313.07,125.91 L313.15,124.50 L313.23,123.08 L313.30,121.67 L313.38,120.26 L313.44,118.84 L313.50,117.43 L313.55,116.02 L313.59,114.60 L313.62,113.19 L313.64,111.77 L313.65,110.36 L313.64,108.95 L313.63,107.53 L313.60,106.12 L313.57,104.71 L313.54,103.29 L313.49,101.88 L313.45,100.46 L313.41,99.05 L313.36,97.64 L313.32,96.22 L313.29,94.81 L313.27,93.40 L313.25,91.98 L313.25,90.57 L313.25,89.15 L313.27,87.74 L313.31,86.33 L313.35,84.91 L313.41,83.50 L313.48,82.09 L313.56,80.67 L313.65,79.26 L313.75,77.84 L313.85,76.43 L313.96,75.02 L314.06,73.60 L314.16,72.19 L314.26,70.78 L314.34,69.36 L314.42,67.95 L314.48,66.53 L314.53,65.12 L314.56,63.71 L314.57,62.29 L314.57,60.88 L314.54,59.47 L314.49,58.05 L314.43,56.64 L314.34,55.22 L314.24,53.81 L314.12,52.40 L313.99,50.98 L313.84,49.57 L313.69,48.16 L313.52,46.74 L313.35,45.33 L313.17,43.91 L313.00,42.50 L312.82,41.09 L312.65,39.67 L312.48,38.26 L312.31,36.85 L312.15,35.43 L312.00,34.02 L311.86,32.60 L311.73,31.19 L311.61,29.78 L311.49,28.36 L311.39,26.95 L311.30,25.54 L311.21,24.12 L310.19,24.12 L310.10,25.54 L310.01,26.95 L309.91,28.36 L309.79,29.78 L309.67,31.19 L309.54,32.60 L309.40,34.02 L309.25,35.43 L309.09,36.85 L308.92,38.26 L308.75,39.67 L308.58,41.09 L308.40,42.50 L308.23,43.91 L308.05,45.33 L307.88,46.74 L307.71,48.16 L307.56,49.57 L307.41,50.98 L307.28,52.40 L307.16,53.81 L307.06,55.22 L306.97,56.64 L306.91,58.05 L306.86,59.47 L306.83,60.88 L306.83,62.29 L306.84,63.71 L306.87,65.12 L306.92,66.53 L306.98,67.95 L307.06,69.36 L307.14,70.78 L307.24,72.19 L307.34,73.60 L307.44,75.02 L307.55,76.43 L307.65,77.84 L307.75,79.26 L307.84,80.67 L307.92,82.09 L307.99,83.50 L308.05,84.91 L308.09,86.33 L308.13,87.74 L308.15,89.15 L308.15,90.57 L308.15,91.98 L308.13,93.40 L308.11,94.81 L308.08,96.22 L308.04,97.64 L307.99,99.05 L307.95,100.46 L307.91,101.88 L307.86,103.29 L307.83,104.71 L307.80,106.12 L307.77,107.53 L307.76,108.95 L307.75,110.36 L307.76,111.77 L307.78,113.19 L307.81,114.60 L307.85,116.02 L307.90,117.43 L307.96,118.84 L308.02,120.26 L308.10,121.67 L308.17,123.08 L308.25,124.50 L308.33,125.91 L308.41,127.33 L308.49,128.74 L308.56,130.15 L308.63,131.57 L308.69,132.98 L308.74,134.39 L308.78,135.81 L308.82,137.22 L308.84,138.64 L308.85,140.05 L308.86,141.46 L308.85,142.88 L308.84,144.29 L308.82,145.70 L308.80,147.12 L308.77,148.53 L308.74,149.95 L308.71,151.36 L308.68,152.77 L308.65,154.19 L308.62,155.60 L308.60,157.01 L308.59,158.43 L308.58,159.84 L308.57,161.26 L308.58,162.67 L308.59,164.08 L308.61,165.50 L308.63,166.91 L308.66,168.32 L308.70,169.74 L308.73,171.15 L308.77,172.57 L308.81,173.98 L308.85,175.39 L308.89,176.81 L308.93,178.22 L308.96,179.63 L308.98,181.05 L309.00,182.46 L309.01,183.88 L309.01,185.29 L309.00,186.70 L308.98,188.12 L308.96,189.53 L308.93,190.94 L308.89,192.36 L308.84,193.77 L308.79,195.19 L308.74,196.60 L308.68,198.01 L308.63,199.43 L308.57,200.84 L308.52,202.25 L308.47,203.67 L308.43,205.08 L308.39,206.50 L308.37,207.91 L308.35,209.32 L308.35,210.74 L308.35,212.15 L308.37,213.56 L308.40,214.98 L308.44,216.39 L308.49,217.81 L308.55,219.22 L308.63,220.63 L308.71,222.05 L308.80,223.46 L308.89,224.87 L308.99,226.29 L309.10,227.70 L309.20,229.12 L309.31,230.53 L309.42,231.94 L309.52,233.36 L309.63,234.77 L309.73,236.18 L309.82,237.60 L309.91,239.01 L310.00,240.43 L310.08,241.84 L310.15,243.25 L310.22,244.67 L310.28,246.08 L310.34,247.49 L310.39,248.91 Z" fill="#79bd9f" stroke="#4a4a4a" stroke-width="0.75" stroke-linejoin="round"/>
<line x1="310.70" x2="310.70" y1="61.05" y2="211.98" stroke="#525252" stroke-width="1.0"/>
<line x1="310.70" x2="310.70" y1="61.05" y2="161.67" stroke="#525252" stroke-width="3.3"/>
<line x1="309.20" x2="312.20" y1="111.36" y2="111.36" stroke="#ffffff" stroke-width="1.0"/>
<path d="M345.37,297.71 L345.38,296.00 L345.40,294.29 L345.42,292.57 L345.44,290.86 L345.46,289.15 L345.48,287.44 L345.51,285.73 L345.54,284.02 L345.56,282.31 L345.59,280.60 L345.62,278.89 L345.65,277.17 L345.68,275.46 L345.71,273.75 L345.73,272.04 L345.75,270.33 L345.77,268.62 L345.79,266.91 L345.80,265.20 L345.81,263.48 L345.82,261.77 L345.82,260.06 L345.81,258.35 L345.81,256.64 L345.80,254.93 L345.79,253.22 L345.78,251.51 L345.77,249.80 L345.76,248.08 L345.76,246.37 L345.75,244.66 L345.75,242.95 L345.75,241.24 L345.76,239.53 L345.77,237.82 L345.78,236.11 L345.80,234.39 L345.83,232.68 L345.86,230.97 L345.89,229.26 L345.92,227.55 L345.95,225.84 L345.99,224.13 L346.02,222.42 L346.05,220.71 L346.08,218.99 L346.10,217.28 L346.12,215.57 L346.13,213.86 L346.14,212.15 L346.15,210.44 L346.15,208.73 L346.15,207.02 L346.14,205.30 L346.14,203.59 L346.13,201.88 L346.13,200.17 L346.13,198.46 L346.13,196.75 L346.15,195.04 L346.16,193.33 L346.19,191.62 L346.23,189.90 L346.28,188.19 L346.33,186.48 L346.40,184.77 L346.48,183.06 L346.56,181.35 L346.65,179.64 L346.74,177.93 L346.84,176.21 L346.93,174.50 L347.02,172.79 L347.10,171.08 L347.18,169.37 L347.25,167.66 L347.30,165.95 L347.34,164.24 L347.37,162.53 L347.38,160.81 L347.38,159.10 L347.37,157.39 L347.34,155.68 L347.31,153.97 L347.28,152.26 L347.24,150.55 L347.20,148.84 L347.17,147.13 L347.15,145.41 L347.14,143.70 L347.14,141.99 L347.16,140.28 L347.20,138.57 L347.26,136.86 L347.33,135.15 L347.42,133.44 L347.53,131.72 L347.66,130.01 L347.79,128.30 L347.93,126.59 L348.07,124.88 L348.21,123.17 L348.35,121.46 L348.47,119.75 L348.57,118.04 L348.66,116.32 L348.72,114.61 L348.75,112.90 L348.76,111.19 L348.74,109.48 L348.70,107.77 L348.62,106.06 L348.53,104.35 L348.41,102.63 L348.28,100.92 L348.14,99.21 L347.99,97.50 L347.83,95.79 L347.68,94.08 L347.53,92.37 L347.39,90.66 L347.26,88.95 L347.15,87.23 L347.05,85.52 L346.97,83.81 L346.91,82.10 L346.86,80.39 L346.83,78.68 L346.82,76.97 L346.81,75.26 L346.82,73.54 L346.83,71.83 L346.84,70.12 L346.86,68.41 L346.87,66.70 L346.87,64.99 L346.87,63.28 L346.86,61.57 L346.85,59.86 L346.82,58.14 L346.78,56.43 L346.73,54.72 L346.67,53.01 L346.60,51.30 L346.52,49.59 L346.44,47.88 L346.36,46.17 L346.27,44.45 L346.18,42.74 L346.09,41.03 L346.01,39.32 L345.93,37.61 L345.85,35.90 L345.78,34.19 L345.71,32.48 L345.65,30.77 L345.59,29.05 L345.55,27.34 L345.50,25.63 L345.10,25.63 L345.05,27.34 L345.01,29.05 L344.95,30.77 L344.89,32.48 L344.82,34.19 L344.75,35.90 L344.67,37.61 L344.59,39.32 L344.51,41.03 L344.42,42.74 L344.33,44.45 L344.24,46.17 L344.16,47.88 L344.08,49.59 L344.00,51.30 L343.93,53.01 L343.87,54.72 L343.82,56.43 L343.78,58.14 L343.75,59.86 L343.74,61.57 L343.73,63.28 L343.73,64.99 L343.73,66.70 L343.74,68.41 L343.76,70.12 L343.77,71.83 L343.78,73.54 L343.79,75.26 L343.78,76.97 L343.77,78.68 L343.74,80.39 L343.69,82.10 L343.63,83.81 L343.55,85.52 L343.45,87.23 L343.34,88.95 L343.21,90.66 L343.07,92.37 L342.92,94.08 L342.77,95.79 L342.61,97.50 L342.46,99.21 L342.32,100.92 L342.19,102.63 L342.07,104.35 L341.98,106.06 L341.90,107.77 L341.86,109.48 L341.84,111.19 L341.85,112.90 L341.88,114.61 L341.94,116.32 L342.03,118.04 L342.13,119.75 L342.25,121.46 L342.39,123.17 L342.53,124.88 L342.67,126.59 L342.81,128.30 L342.94,130.01 L343.07,131.72 L343.18,133.44 L343.27,135.15 L343.34,136.86 L343.40,138.57 L343.44,140.28 L343.46,141.99 L343.46,143.70 L343.45,145.41 L343.43,147.13 L343.40,148.84 L343.36,150.55 L343.32,152.26 L343.29,153.97 L343.26,155.68 L343.23,157.39 L343.22,159.10 L343.22,160.81 L343.23,162.53 L343.26,164.24 L343.30,165.95 L343.35,167.66 L343.42,169.37 L343.50,171.08 L343.58,172.79 L343.67,174.50 L343.76,176.21 L343.86,177.93 L343.95,179.64 L344.04,181.35 L344.12,183.06 L344.20,184.77 L344.27,186.48 L344.32,188.19 L344.37,189.90 L344.41,191.62 L344.44,193.33 L344.45,195.04 L344.47,196.75 L344.47,198.46 L344.47,200.17 L344.47,201.88 L344.46,203.59 L344.46,205.30 L344.45,207.02 L344.45,208.73 L344.45,210.44 L344.46,212.15 L344.47,213.86 L344.48,215.57 L344.50,217.28 L344.52,218.99 L344.55,220.71 L344.58,222.42 L344.61,224.13 L344.65,225.84 L344.68,227.55 L344.71,229.26 L344.74,230.97 L344.77,232.68 L344.80,234.39 L344.82,236.11 L344.83,237.82 L344.84,239.53 L344.85,241.24 L344.85,242.95 L344.85,244.66 L344.84,246.37 L344.84,248.08 L344.83,249.80 L344.82,251.51 L344.81,253.22 L344.80,254.93 L344.79,256.64 L344.79,258.35 L344.78,260.06 L344.78,261.77 L344.79,263.48 L344.80,265.20 L344.81,266.91 L344.83,268.62 L344.85,270.33 L344.87,272.04 L344.89,273.75 L344.92,275.46 L344.95,277.17 L344.98,278.89 L345.01,280.60 L345.04,282.31 L345.06,284.02 L345.09,285.73 L345.12,287.44 L345.14,289.15 L345.16,290.86 L345.18,292.57 L345.20,294.29 L345.22,296.00 L345.23,297.71 Z" fill="#e68e6c" stroke="#4a4a4a" stroke-width="0.75" stroke-linejoin="round"/>
<line x1="345.30" x2="345.30" y1="61.05" y2="211.98" stroke="#525252" stroke-width="1.0"/>
<line x1="345.30" x2="345.30" y1="111.36" y2="161.67" stroke="#525252" stroke-width="3.3"/>
<line x1="343.80" x2="346.80" y1="111.36" y2="111.36" stroke="#ffffff" stroke-width="1.0"/>
<path d="M380.14,295.60 L380.20,293.91 L380.26,292.23 L380.33,290.54 L380.40,288.86 L380.49,287.17 L380.58,285.49 L380.68,283.80 L380.79,282.12 L380.89,280.43 L381.01,278.75 L381.12,277.06 L381.22,275.38 L381.33,273.70 L381.42,272.01 L381.51,270.33 L381.58,268.64 L381.64,266.96 L381.69,265.27 L381.72,263.59 L381.74,261.90 L381.74,260.22 L381.72,258.53 L381.69,256.85 L381.66,255.16 L381.61,253.48 L381.57,251.80 L381.52,250.11 L381.47,248.43 L381.44,246.74 L381.41,245.06 L381.40,243.37 L381.41,241.69 L381.44,240.00 L381.48,238.32 L381.55,236.63 L381.64,234.95 L381.75,233.27 L381.88,231.58 L382.02,229.90 L382.17,228.21 L382.33,226.53 L382.49,224.84 L382.65,223.16 L382.80,221.47 L382.93,219.79 L383.05,218.10 L383.14,216.42 L383.20,214.73 L383.24,213.05 L383.25,211.37 L383.23,209.68 L383.18,208.00 L383.10,206.31 L383.00,204.63 L382.89,202.94 L382.76,201.26 L382.62,199.57 L382.48,197.89 L382.35,196.20 L382.22,194.52 L382.11,192.83 L382.01,191.15 L381.94,189.47 L381.90,187.78 L381.88,186.10 L381.88,184.41 L381.91,182.73 L381.96,181.04 L382.03,179.36 L382.12,177.67 L382.22,175.99 L382.33,174.30 L382.44,172.62 L382.55,170.94 L382.64,169.25 L382.73,167.57 L382.79,165.88 L382.84,164.20 L382.86,162.51 L382.86,160.83 L382.83,159.14 L382.78,157.46 L382.71,155.77 L382.63,154.09 L382.52,152.40 L382.41,150.72 L382.29,149.04 L382.18,147.35 L382.06,145.67 L381.96,143.98 L381.87,142.30 L381.80,140.61 L381.75,138.93 L381.73,137.24 L381.72,135.56 L381.74,133.87 L381.79,132.19 L381.85,130.51 L381.93,128.82 L382.03,127.14 L382.13,125.45 L382.24,123.77 L382.35,122.08 L382.45,120.40 L382.55,118.71 L382.62,117.03 L382.68,115.34 L382.72,113.66 L382.74,111.97 L382.73,110.29 L382.69,108.61 L382.63,106.92 L382.54,105.24 L382.43,103.55 L382.31,101.87 L382.17,100.18 L382.02,98.50 L381.86,96.81 L381.70,95.13 L381.55,93.44 L381.39,91.76 L381.25,90.07 L381.11,88.39 L380.99,86.71 L380.88,85.02 L380.78,83.34 L380.70,81.65 L380.64,79.97 L380.58,78.28 L380.54,76.60 L380.51,74.91 L380.49,73.23 L380.47,71.54 L380.46,69.86 L380.45,68.18 L380.45,66.49 L380.44,64.81 L380.44,63.12 L380.43,61.44 L380.42,59.75 L380.41,58.07 L380.39,56.38 L380.37,54.70 L380.35,53.01 L380.33,51.33 L380.30,49.64 L380.27,47.96 L380.24,46.28 L380.21,44.59 L380.18,42.91 L380.15,41.22 L380.12,39.54 L380.09,37.85 L380.06,36.17 L380.04,34.48 L380.02,32.80 L380.00,31.11 L379.98,29.43 L379.97,27.74 L379.83,27.74 L379.82,29.43 L379.80,31.11 L379.78,32.80 L379.76,34.48 L379.74,36.17 L379.71,37.85 L379.68,39.54 L379.65,41.22 L379.62,42.91 L379.59,44.59 L379.56,46.28 L379.53,47.96 L379.50,49.64 L379.47,51.33 L379.45,53.01 L379.43,54.70 L379.41,56.38 L379.39,58.07 L379.38,59.75 L379.37,61.44 L379.36,63.12 L379.36,64.81 L379.35,66.49 L379.35,68.18 L379.34,69.86 L379.33,71.54 L379.31,73.23 L379.29,74.91 L379.26,76.60 L379.22,78.28 L379.16,79.97 L379.10,81.65 L379.02,83.34 L378.92,85.02 L378.81,86.71 L378.69,88.39 L378.55,90.07 L378.41,91.76 L378.25,93.44 L378.10,95.13 L377.94,96.81 L377.78,98.50 L377.63,100.18 L377.49,101.87 L377.37,103.55 L377.26,105.24 L377.17,106.92 L377.11,108.61 L377.07,110.29 L377.06,111.97 L377.08,113.66 L377.12,115.34 L377.18,117.03 L377.25,118.71 L377.35,120.40 L377.45,122.08 L377.56,123.77 L377.67,125.45 L377.77,127.14 L377.87,128.82 L377.95,130.51 L378.01,132.19 L378.06,133.87 L378.08,135.56 L378.07,137.24 L378.05,138.93 L378.00,140.61 L377.93,142.30 L377.84,143.98 L377.74,145.67 L377.62,147.35 L377.51,149.04 L377.39,150.72 L377.28,152.40 L377.17,154.09 L377.09,155.77 L377.02,157.46 L376.97,159.14 L376.94,160.83 L376.94,162.51 L376.96,164.20 L377.01,165.88 L377.07,167.57 L377.16,169.25 L377.25,170.94 L377.36,172.62 L377.47,174.30 L377.58,175.99 L377.68,177.67 L377.77,179.36 L377.84,181.04 L377.89,182.73 L377.92,184.41 L377.92,186.10 L377.90,187.78 L377.86,189.47 L377.79,191.15 L377.69,192.83 L377.58,194.52 L377.45,196.20 L377.32,197.89 L377.18,199.57 L377.04,201.26 L376.91,202.94 L376.80,204.63 L376.70,206.31 L376.62,208.00 L376.57,209.68 L376.55,211.37 L376.56,213.05 L376.60,214.73 L376.66,216.42 L376.75,218.10 L376.87,219.79 L377.00,221.47 L377.15,223.16 L377.31,224.84 L377.47,226.53 L377.63,228.21 L377.78,229.90 L377.92,231.58 L378.05,233.27 L378.16,234.95 L378.25,236.63 L378.32,238.32 L378.36,240.00 L378.39,241.69 L378.40,243.37 L378.39,245.06 L378.36,246.74 L378.33,248.43 L378.28,250.11 L378.23,251.80 L378.19,253.48 L378.14,255.16 L378.11,256.85 L378.08,258.53 L378.06,260.22 L378.06,261.90 L378.08,263.59 L378.11,265.27 L378.16,266.96 L378.22,268.64 L378.29,270.33 L378.38,272.01 L378.47,273.70 L378.58,275.38 L378.68,277.06 L378.79,278.75 L378.91,280.43 L379.01,282.12 L379.12,283.80 L379.22,285.49 L379.31,287.17 L379.40,288.86 L379.47,290.54 L379.54,292.23 L379.60,293.91 L379.66,295.60 Z" fill="#93a4c6" stroke="#4a4a4a" stroke-width="0.75" stroke-linejoin="round"/>
<line x1="379.90" x2="379.90" y1="61.05" y2="262.29" stroke="#525252" stroke-width="1.0"/>
<line x1="379.90" x2="379.90" y1="111.36" y2="211.98" stroke="#525252" stroke-width="3.3"/>
<line x1="378.40" x2="381.40" y1="161.67" y2="161.67" stroke="#ffffff" stroke-width="1.0"/>
<path d="M442.80,280.50 L443.68,279.01 L444.75,277.51 L446.04,276.02 L447.51,274.52 L449.13,273.03 L450.84,271.53 L452.56,270.04 L454.19,268.54 L455.63,267.05 L456.77,265.55 L457.52,264.06 L457.84,262.57 L457.69,261.07 L457.09,259.58 L456.09,258.08 L454.75,256.59 L453.18,255.09 L451.48,253.60 L449.76,252.10 L448.09,250.61 L446.56,249.11 L445.20,247.62 L444.05,246.12 L443.11,244.63 L442.36,243.13 L441.79,241.64 L441.37,240.14 L441.08,238.65 L440.88,237.15 L440.76,235.66 L440.70,234.17 L440.69,232.67 L440.72,231.18 L440.78,229.68 L440.88,228.19 L441.00,226.69 L441.15,225.20 L441.33,223.70 L441.52,222.21 L441.71,220.71 L441.91,219.22 L442.09,217.72 L442.24,216.23 L442.36,214.73 L442.43,213.24 L442.45,211.74 L442.41,210.25 L442.33,208.75 L442.20,207.26 L442.03,205.76 L441.85,204.27 L441.65,202.78 L441.45,201.28 L441.27,199.79 L441.10,198.29 L440.95,196.80 L440.82,195.30 L440.72,193.81 L440.65,192.31 L440.59,190.82 L440.55,189.32 L440.53,187.83 L440.51,186.33 L440.51,184.84 L440.52,183.34 L440.54,181.85 L440.58,180.35 L440.62,178.86 L440.68,177.36 L440.75,175.87 L440.83,174.38 L440.92,172.88 L441.02,171.39 L441.12,169.89 L441.21,168.40 L441.30,166.90 L441.37,165.41 L441.42,163.91 L441.45,162.42 L441.45,160.92 L441.42,159.43 L441.37,157.93 L441.30,156.44 L441.21,154.94 L441.12,153.45 L441.02,151.95 L440.92,150.46 L440.83,148.96 L440.75,147.47 L440.68,145.98 L440.62,144.48 L440.57,142.99 L440.54,141.49 L440.51,140.00 L440.49,138.50 L440.48,137.01 L440.48,135.51 L440.48,134.02 L440.48,132.52 L440.49,131.03 L440.51,129.53 L440.53,128.04 L440.55,126.54 L440.58,125.05 L440.61,123.55 L440.65,122.06 L440.69,120.56 L440.73,119.07 L440.77,117.58 L440.80,116.08 L440.83,114.59 L440.84,113.09 L440.85,111.60 L440.85,110.10 L440.83,108.61 L440.81,107.11 L440.78,105.62 L440.74,104.12 L440.70,102.63 L440.66,101.13 L440.62,99.64 L440.59,98.14 L440.56,96.65 L440.53,95.15 L440.51,93.66 L440.49,92.16 L440.48,90.67 L440.47,89.17 L440.47,87.68 L440.47,86.19 L440.47,84.69 L440.47,83.20 L440.47,81.70 L440.48,80.21 L440.50,78.71 L440.51,77.22 L440.53,75.72 L440.56,74.23 L440.58,72.73 L440.61,71.24 L440.64,69.74 L440.67,68.25 L440.70,66.75 L440.72,65.26 L440.74,63.76 L440.75,62.27 L440.75,60.77 L440.74,59.28 L440.73,57.79 L440.71,56.29 L440.69,54.80 L440.66,53.30 L440.63,51.81 L440.60,50.31 L440.57,48.82 L440.55,47.32 L440.52,45.83 L440.51,44.33 L440.49,42.84 L440.41,42.84 L440.39,44.33 L440.38,45.83 L440.35,47.32 L440.33,48.82 L440.30,50.31 L440.27,51.81 L440.24,53.30 L440.21,54.80 L440.19,56.29 L440.17,57.79 L440.16,59.28 L440.15,60.77 L440.15,62.27 L440.16,63.76 L440.18,65.26 L440.20,66.75 L440.23,68.25 L440.26,69.74 L440.29,71.24 L440.32,72.73 L440.34,74.23 L440.37,75.72 L440.39,77.22 L440.40,78.71 L440.42,80.21 L440.43,81.70 L440.43,83.20 L440.43,84.69 L440.43,86.19 L440.43,87.68 L440.43,89.17 L440.42,90.67 L440.41,92.16 L440.39,93.66 L440.37,95.15 L440.34,96.65 L440.31,98.14 L440.28,99.64 L440.24,101.13 L440.20,102.63 L440.16,104.12 L440.12,105.62 L440.09,107.11 L440.07,108.61 L440.05,110.10 L440.05,111.60 L440.06,113.09 L440.07,114.59 L440.10,116.08 L440.13,117.58 L440.17,119.07 L440.21,120.56 L440.25,122.06 L440.29,123.55 L440.32,125.05 L440.35,126.54 L440.37,128.04 L440.39,129.53 L440.41,131.03 L440.42,132.52 L440.42,134.02 L440.42,135.51 L440.42,137.01 L440.41,138.50 L440.39,140.00 L440.36,141.49 L440.33,142.99 L440.28,144.48 L440.22,145.98 L440.15,147.47 L440.07,148.96 L439.98,150.46 L439.88,151.95 L439.78,153.45 L439.69,154.94 L439.60,156.44 L439.53,157.93 L439.48,159.43 L439.45,160.92 L439.45,162.42 L439.48,163.91 L439.53,165.41 L439.60,166.90 L439.69,168.40 L439.78,169.89 L439.88,171.39 L439.98,172.88 L440.07,174.38 L440.15,175.87 L440.22,177.36 L440.28,178.86 L440.32,180.35 L440.36,181.85 L440.38,183.34 L440.39,184.84 L440.39,186.33 L440.37,187.83 L440.35,189.32 L440.31,190.82 L440.25,192.31 L440.18,193.81 L440.08,195.30 L439.95,196.80 L439.80,198.29 L439.63,199.79 L439.45,201.28 L439.25,202.78 L439.05,204.27 L438.87,205.76 L438.70,207.26 L438.57,208.75 L438.49,210.25 L438.45,211.74 L438.47,213.24 L438.54,214.73 L438.66,216.23 L438.81,217.72 L438.99,219.22 L439.19,220.71 L439.38,222.21 L439.57,223.70 L439.75,225.20 L439.90,226.69 L440.02,228.19 L440.12,229.68 L440.18,231.18 L440.21,232.67 L440.20,234.17 L440.14,235.66 L440.02,237.15 L439.82,238.65 L439.53,240.14 L439.11,241.64 L438.54,243.13 L437.79,244.63 L436.85,246.12 L435.70,247.62 L434.34,249.11 L432.81,250.61 L431.14,252.10 L429.42,253.60 L427.72,255.09 L426.15,256.59 L424.81,258.08 L423.81,259.58 L423.21,261.07 L423.06,262.57 L423.38,264.06 L424.13,265.55 L425.27,267.05 L426.71,268.54 L428.34,270.04 L430.06,271.53 L431.77,273.03 L433.39,274.52 L434.86,276.02 L436.15,277.51 L437.22,279.01 L438.10,280.50 Z" fill="#79bd9f" stroke="#4a4a4a" stroke-width="0.75" stroke-linejoin="round"/>
<line x1="438.95" x2="441.95" y1="262.29" y2="262.29" stroke="#ffffff" stroke-width="1.0"/>
<path d="M475.19,297.71 L475.21,296.00 L475.25,294.29 L475.28,292.57 L475.32,290.86 L475.37,289.15 L475.42,287.44 L475.47,285.73 L475.52,284.02 L475.58,282.31 L475.64,280.60 L475.70,278.89 L475.76,277.17 L475.81,275.46 L475.87,273.75 L475.92,272.04 L475.97,270.33 L476.01,268.62 L476.04,266.91 L476.07,265.20 L476.09,263.48 L476.11,261.77 L476.12,260.06 L476.12,258.35 L476.13,256.64 L476.13,254.93 L476.13,253.22 L476.13,251.51 L476.14,249.80 L476.15,248.08 L476.17,246.37 L476.21,244.66 L476.25,242.95 L476.31,241.24 L476.38,239.53 L476.47,237.82 L476.57,236.11 L476.69,234.39 L476.81,232.68 L476.95,230.97 L477.09,229.26 L477.24,227.55 L477.38,225.84 L477.52,224.13 L477.66,222.42 L477.78,220.71 L477.88,218.99 L477.97,217.28 L478.04,215.57 L478.08,213.86 L478.10,212.15 L478.10,210.44 L478.07,208.73 L478.02,207.02 L477.95,205.30 L477.86,203.59 L477.75,201.88 L477.64,200.17 L477.52,198.46 L477.40,196.75 L477.29,195.04 L477.18,193.33 L477.08,191.62 L476.99,189.90 L476.92,188.19 L476.86,186.48 L476.83,184.77 L476.81,183.06 L476.80,181.35 L476.81,179.64 L476.84,177.93 L476.87,176.21 L476.91,174.50 L476.96,172.79 L477.00,171.08 L477.04,169.37 L477.08,167.66 L477.11,165.95 L477.13,164.24 L477.13,162.53 L477.13,160.81 L477.11,159.10 L477.08,157.39 L477.03,155.68 L476.98,153.97 L476.91,152.26 L476.85,150.55 L476.77,148.84 L476.70,147.13 L476.63,145.41 L476.57,143.70 L476.51,141.99 L476.46,140.28 L476.43,138.57 L476.40,136.86 L476.39,135.15 L476.39,133.44 L476.41,131.72 L476.43,130.01 L476.46,128.30 L476.51,126.59 L476.55,124.88 L476.60,123.17 L476.65,121.46 L476.69,119.75 L476.73,118.04 L476.76,116.32 L476.78,114.61 L476.79,112.90 L476.79,111.19 L476.78,109.48 L476.75,107.77 L476.71,106.06 L476.65,104.35 L476.59,102.63 L476.52,100.92 L476.44,99.21 L476.35,97.50 L476.27,95.79 L476.18,94.08 L476.09,92.37 L476.01,90.66 L475.93,88.95 L475.86,87.23 L475.79,85.52 L475.73,83.81 L475.68,82.10 L475.64,80.39 L475.60,78.68 L475.57,76.97 L475.55,75.26 L475.54,73.54 L475.52,71.83 L475.51,70.12 L475.51,68.41 L475.50,66.70 L475.50,64.99 L475.49,63.28 L475.48,61.57 L475.47,59.86 L475.46,58.14 L475.45,56.43 L475.44,54.72 L475.42,53.01 L475.40,51.30 L475.38,49.59 L475.36,47.88 L475.33,46.17 L475.31,44.45 L475.29,42.74 L475.26,41.03 L475.24,39.32 L475.22,37.61 L475.20,35.90 L475.18,34.19 L475.16,32.48 L475.14,30.77 L475.13,29.05 L475.12,27.34 L475.10,25.63 L475.00,25.63 L474.98,27.34 L474.97,29.05 L474.96,30.77 L474.94,32.48 L474.92,34.19 L474.90,35.90 L474.88,37.61 L474.86,39.32 L474.84,41.03 L474.81,42.74 L474.79,44.45 L474.77,46.17 L474.74,47.88 L474.72,49.59 L474.70,51.30 L474.68,53.01 L474.66,54.72 L474.65,56.43 L474.64,58.14 L474.63,59.86 L474.62,61.57 L474.61,63.28 L474.60,64.99 L474.60,66.70 L474.59,68.41 L474.59,70.12 L474.58,71.83 L474.56,73.54 L474.55,75.26 L474.53,76.97 L474.50,78.68 L474.46,80.39 L474.42,82.10 L474.37,83.81 L474.31,85.52 L474.24,87.23 L474.17,88.95 L474.09,90.66 L474.01,92.37 L473.92,94.08 L473.83,95.79 L473.75,97.50 L473.66,99.21 L473.58,100.92 L473.51,102.63 L473.45,104.35 L473.39,106.06 L473.35,107.77 L473.32,109.48 L473.31,111.19 L473.31,112.90 L473.32,114.61 L473.34,116.32 L473.37,118.04 L473.41,119.75 L473.45,121.46 L473.50,123.17 L473.55,124.88 L473.59,126.59 L473.64,128.30 L473.67,130.01 L473.69,131.72 L473.71,133.44 L473.71,135.15 L473.70,136.86 L473.67,138.57 L473.64,140.28 L473.59,141.99 L473.53,143.70 L473.47,145.41 L473.40,147.13 L473.33,148.84 L473.25,150.55 L473.19,152.26 L473.12,153.97 L473.07,155.68 L473.02,157.39 L472.99,159.10 L472.97,160.81 L472.97,162.53 L472.97,164.24 L472.99,165.95 L473.02,167.66 L473.06,169.37 L473.10,171.08 L473.14,172.79 L473.19,174.50 L473.23,176.21 L473.26,177.93 L473.29,179.64 L473.30,181.35 L473.29,183.06 L473.27,184.77 L473.24,186.48 L473.18,188.19 L473.11,189.90 L473.02,191.62 L472.92,193.33 L472.81,195.04 L472.70,196.75 L472.58,198.46 L472.46,200.17 L472.35,201.88 L472.24,203.59 L472.15,205.30 L472.08,207.02 L472.03,208.73 L472.00,210.44 L472.00,212.15 L472.02,213.86 L472.06,215.57 L472.13,217.28 L472.22,218.99 L472.32,220.71 L472.44,222.42 L472.58,224.13 L472.72,225.84 L472.86,227.55 L473.01,229.26 L473.15,230.97 L473.29,232.68 L473.41,234.39 L473.53,236.11 L473.63,237.82 L473.72,239.53 L473.79,241.24 L473.85,242.95 L473.89,244.66 L473.93,246.37 L473.95,248.08 L473.96,249.80 L473.97,251.51 L473.97,253.22 L473.97,254.93 L473.97,256.64 L473.98,258.35 L473.98,260.06 L473.99,261.77 L474.01,263.48 L474.03,265.20 L474.06,266.91 L474.09,268.62 L474.13,270.33 L474.18,272.04 L474.23,273.75 L474.29,275.46 L474.34,277.17 L474.40,278.89 L474.46,280.60 L474.52,282.31 L474.58,284.02 L474.63,285.73 L474.68,287.44 L474.73,289.15 L474.78,290.86 L474.82,292.57 L474.85,294.29 L474.89,296.00 L474.91,297.71 Z" fill="#e68e6c" stroke="#4a4a4a" stroke-width="0.75" stroke-linejoin="round"/>
<line x1="475.05" x2="475.05" y1="61.05" y2="262.29" stroke="#525252" stroke-width="1.0"/>
<line x1="475.05" x2="475.05" y1="111.36" y2="211.98" stroke="#525252" stroke-width="3.3"/>
<line x1="473.55" x2="476.55" y1="161.67" y2="161.67" stroke="#ffffff" stroke-width="1.0"/>
<path d="M509.76,298.61 L509.78,296.89 L509.81,295.17 L509.83,293.45 L509.87,291.72 L509.90,290.00 L509.94,288.28 L509.98,286.56 L510.02,284.83 L510.07,283.11 L510.11,281.39 L510.16,279.67 L510.21,277.94 L510.25,276.22 L510.29,274.50 L510.34,272.78 L510.37,271.05 L510.41,269.33 L510.44,267.61 L510.47,265.89 L510.49,264.16 L510.50,262.44 L510.52,260.72 L510.52,258.99 L510.53,257.27 L510.54,255.55 L510.54,253.83 L510.55,252.10 L510.56,250.38 L510.58,248.66 L510.60,246.94 L510.63,245.21 L510.67,243.49 L510.72,241.77 L510.79,240.05 L510.86,238.32 L510.94,236.60 L511.04,234.88 L511.14,233.16 L511.25,231.43 L511.37,229.71 L511.48,227.99 L511.60,226.27 L511.72,224.54 L511.83,222.82 L511.93,221.10 L512.02,219.38 L512.10,217.65 L512.16,215.93 L512.21,214.21 L512.24,212.49 L512.25,210.76 L512.25,209.04 L512.23,207.32 L512.20,205.60 L512.17,203.87 L512.12,202.15 L512.07,200.43 L512.03,198.71 L511.99,196.98 L511.96,195.26 L511.94,193.54 L511.93,191.81 L511.95,190.09 L511.98,188.37 L512.03,186.65 L512.11,184.92 L512.20,183.20 L512.30,181.48 L512.43,179.76 L512.56,178.03 L512.70,176.31 L512.83,174.59 L512.97,172.87 L513.10,171.14 L513.22,169.42 L513.32,167.70 L513.40,165.98 L513.46,164.25 L513.50,162.53 L513.51,160.81 L513.50,159.09 L513.47,157.36 L513.42,155.64 L513.36,153.92 L513.28,152.20 L513.20,150.47 L513.12,148.75 L513.04,147.03 L512.97,145.31 L512.92,143.58 L512.89,141.86 L512.88,140.14 L512.90,138.42 L512.94,136.69 L513.01,134.97 L513.11,133.25 L513.23,131.53 L513.37,129.80 L513.53,128.08 L513.70,126.36 L513.87,124.63 L514.04,122.91 L514.20,121.19 L514.34,119.47 L514.47,117.74 L514.57,116.02 L514.63,114.30 L514.67,112.58 L514.66,110.85 L514.62,109.13 L514.55,107.41 L514.44,105.69 L514.29,103.96 L514.12,102.24 L513.93,100.52 L513.72,98.80 L513.50,97.07 L513.28,95.35 L513.06,93.63 L512.84,91.91 L512.63,90.18 L512.44,88.46 L512.27,86.74 L512.12,85.02 L511.99,83.29 L511.88,81.57 L511.79,79.85 L511.73,78.13 L511.68,76.40 L511.65,74.68 L511.63,72.96 L511.61,71.24 L511.61,69.51 L511.61,67.79 L511.60,66.07 L511.59,64.35 L511.58,62.62 L511.55,60.90 L511.52,59.18 L511.47,57.45 L511.42,55.73 L511.35,54.01 L511.28,52.29 L511.19,50.56 L511.10,48.84 L511.00,47.12 L510.90,45.40 L510.79,43.67 L510.69,41.95 L510.59,40.23 L510.48,38.51 L510.39,36.78 L510.30,35.06 L510.21,33.34 L510.13,31.62 L510.06,29.89 L510.00,28.17 L509.94,26.45 L509.89,24.73 L509.41,24.73 L509.36,26.45 L509.30,28.17 L509.24,29.89 L509.17,31.62 L509.09,33.34 L509.00,35.06 L508.91,36.78 L508.82,38.51 L508.71,40.23 L508.61,41.95 L508.51,43.67 L508.40,45.40 L508.30,47.12 L508.20,48.84 L508.11,50.56 L508.02,52.29 L507.95,54.01 L507.88,55.73 L507.83,57.45 L507.78,59.18 L507.75,60.90 L507.72,62.62 L507.71,64.35 L507.70,66.07 L507.69,67.79 L507.69,69.51 L507.69,71.24 L507.67,72.96 L507.65,74.68 L507.62,76.40 L507.57,78.13 L507.51,79.85 L507.42,81.57 L507.31,83.29 L507.18,85.02 L507.03,86.74 L506.86,88.46 L506.67,90.18 L506.46,91.91 L506.24,93.63 L506.02,95.35 L505.80,97.07 L505.58,98.80 L505.37,100.52 L505.18,102.24 L505.01,103.96 L504.86,105.69 L504.75,107.41 L504.68,109.13 L504.64,110.85 L504.63,112.58 L504.67,114.30 L504.73,116.02 L504.83,117.74 L504.96,119.47 L505.10,121.19 L505.26,122.91 L505.43,124.63 L505.60,126.36 L505.77,128.08 L505.93,129.80 L506.07,131.53 L506.19,133.25 L506.29,134.97 L506.36,136.69 L506.40,138.42 L506.42,140.14 L506.41,141.86 L506.38,143.58 L506.33,145.31 L506.26,147.03 L506.18,148.75 L506.10,150.47 L506.02,152.20 L505.94,153.92 L505.88,155.64 L505.83,157.36 L505.80,159.09 L505.79,160.81 L505.80,162.53 L505.84,164.25 L505.90,165.98 L505.98,167.70 L506.08,169.42 L506.20,171.14 L506.33,172.87 L506.47,174.59 L506.60,176.31 L506.74,178.03 L506.87,179.76 L507.00,181.48 L507.10,183.20 L507.19,184.92 L507.27,186.65 L507.32,188.37 L507.35,190.09 L507.37,191.81 L507.36,193.54 L507.34,195.26 L507.31,196.98 L507.27,198.71 L507.23,200.43 L507.18,202.15 L507.13,203.87 L507.10,205.60 L507.07,207.32 L507.05,209.04 L507.05,210.76 L507.06,212.49 L507.09,214.21 L507.14,215.93 L507.20,217.65 L507.28,219.38 L507.37,221.10 L507.47,222.82 L507.58,224.54 L507.70,226.27 L507.82,227.99 L507.93,229.71 L508.05,231.43 L508.16,233.16 L508.26,234.88 L508.36,236.60 L508.44,238.32 L508.51,240.05 L508.58,241.77 L508.63,243.49 L508.67,245.21 L508.70,246.94 L508.72,248.66 L508.74,250.38 L508.75,252.10 L508.76,253.83 L508.76,255.55 L508.77,257.27 L508.78,258.99 L508.78,260.72 L508.80,262.44 L508.81,264.16 L508.83,265.89 L508.86,267.61 L508.89,269.33 L508.93,271.05 L508.96,272.78 L509.01,274.50 L509.05,276.22 L509.09,277.94 L509.14,279.67 L509.19,281.39 L509.23,283.11 L509.28,284.83 L509.32,286.56 L509.36,288.28 L509.40,290.00 L509.43,291.72 L509.47,293.45 L509.49,295.17 L509.52,296.89 L509.54,298.61 Z" fill="#93a4c6" stroke="#4a4a4a" stroke-width="0.75" stroke-linejoin="round"/>
<line x1="509.65" x2="509.65" y1="61.05" y2="262.29" stroke="#525252" stroke-width="1.0"/>
<line x1="509.65" x2="509.65" y1="111.36" y2="211.98" stroke="#525252" stroke-width="3.3"/>
<line x1="508.15" x2="511.15" y1="161.67" y2="161.67" stroke="#ffffff" stroke-width="1.0"/>
<path d="M570.24,283.92 L570.25,282.39 L570.27,280.85 L570.29,279.31 L570.31,277.77 L570.33,276.23 L570.36,274.70 L570.38,273.16 L570.41,271.62 L570.43,270.08 L570.45,268.55 L570.47,267.01 L570.49,265.47 L570.50,263.93 L570.50,262.39 L570.50,260.86 L570.49,259.32 L570.48,257.78 L570.46,256.24 L570.43,254.71 L570.41,253.17 L570.38,251.63 L570.36,250.09 L570.33,248.55 L570.31,247.02 L570.29,245.48 L570.27,243.94 L570.26,242.40 L570.25,240.87 L570.24,239.33 L570.24,237.79 L570.24,236.25 L570.24,234.71 L570.25,233.18 L570.26,231.64 L570.28,230.10 L570.29,228.56 L570.32,227.03 L570.34,225.49 L570.36,223.95 L570.39,222.41 L570.41,220.87 L570.44,219.34 L570.46,217.80 L570.48,216.26 L570.49,214.72 L570.50,213.19 L570.50,211.65 L570.50,210.11 L570.49,208.57 L570.47,207.03 L570.45,205.50 L570.43,203.96 L570.40,202.42 L570.38,200.88 L570.35,199.35 L570.33,197.81 L570.31,196.27 L570.29,194.73 L570.28,193.19 L570.27,191.66 L570.27,190.12 L570.27,188.58 L570.28,187.04 L570.30,185.51 L570.33,183.97 L570.37,182.43 L570.41,180.89 L570.47,179.35 L570.53,177.82 L570.60,176.28 L570.68,174.74 L570.77,173.20 L570.85,171.67 L570.94,170.13 L571.02,168.59 L571.08,167.05 L571.14,165.51 L571.18,163.98 L571.20,162.44 L571.20,160.90 L571.18,159.36 L571.14,157.83 L571.08,156.29 L571.02,154.75 L570.94,153.21 L570.86,151.67 L570.77,150.14 L570.69,148.60 L570.61,147.06 L570.55,145.52 L570.49,143.99 L570.45,142.45 L570.43,140.91 L570.42,139.37 L570.43,137.83 L570.47,136.30 L570.52,134.76 L570.61,133.22 L570.72,131.68 L570.86,130.15 L571.02,128.61 L571.22,127.07 L571.43,125.53 L571.67,123.99 L571.91,122.46 L572.16,120.92 L572.40,119.38 L572.62,117.84 L572.81,116.31 L572.96,114.77 L573.06,113.23 L573.10,111.69 L573.08,110.15 L573.01,108.62 L572.88,107.08 L572.71,105.54 L572.51,104.00 L572.28,102.47 L572.04,100.93 L571.80,99.39 L571.57,97.85 L571.37,96.31 L571.20,94.78 L571.07,93.24 L571.00,91.70 L570.98,90.16 L571.04,88.63 L571.17,87.09 L571.40,85.55 L571.73,84.01 L572.17,82.47 L572.73,80.94 L573.42,79.40 L574.23,77.86 L575.16,76.32 L576.19,74.79 L577.30,73.25 L578.45,71.71 L579.59,70.17 L580.68,68.63 L581.66,67.10 L582.49,65.56 L583.10,64.02 L583.48,62.48 L583.60,60.95 L583.45,59.41 L583.03,57.87 L582.38,56.33 L581.54,54.79 L580.54,53.26 L579.44,51.72 L578.29,50.18 L577.14,48.64 L576.04,47.11 L575.01,45.57 L574.09,44.03 L573.28,42.49 L572.59,40.95 L572.01,39.42 L568.39,39.42 L567.81,40.95 L567.12,42.49 L566.31,44.03 L565.39,45.57 L564.36,47.11 L563.26,48.64 L562.11,50.18 L560.96,51.72 L559.86,53.26 L558.86,54.79 L558.02,56.33 L557.37,57.87 L556.95,59.41 L556.80,60.95 L556.92,62.48 L557.30,64.02 L557.91,65.56 L558.74,67.10 L559.72,68.63 L560.81,70.17 L561.95,71.71 L563.10,73.25 L564.21,74.79 L565.24,76.32 L566.17,77.86 L566.98,79.40 L567.67,80.94 L568.23,82.47 L568.67,84.01 L569.00,85.55 L569.23,87.09 L569.36,88.63 L569.42,90.16 L569.40,91.70 L569.33,93.24 L569.20,94.78 L569.03,96.31 L568.83,97.85 L568.60,99.39 L568.36,100.93 L568.12,102.47 L567.89,104.00 L567.69,105.54 L567.52,107.08 L567.39,108.62 L567.32,110.15 L567.30,111.69 L567.34,113.23 L567.44,114.77 L567.59,116.31 L567.78,117.84 L568.00,119.38 L568.24,120.92 L568.49,122.46 L568.73,123.99 L568.97,125.53 L569.18,127.07 L569.38,128.61 L569.54,130.15 L569.68,131.68 L569.79,133.22 L569.88,134.76 L569.93,136.30 L569.97,137.83 L569.98,139.37 L569.97,140.91 L569.95,142.45 L569.91,143.99 L569.85,145.52 L569.79,147.06 L569.71,148.60 L569.63,150.14 L569.54,151.67 L569.46,153.21 L569.38,154.75 L569.32,156.29 L569.26,157.83 L569.22,159.36 L569.20,160.90 L569.20,162.44 L569.22,163.98 L569.26,165.51 L569.32,167.05 L569.38,168.59 L569.46,170.13 L569.55,171.67 L569.63,173.20 L569.72,174.74 L569.80,176.28 L569.87,177.82 L569.93,179.35 L569.99,180.89 L570.03,182.43 L570.07,183.97 L570.10,185.51 L570.12,187.04 L570.13,188.58 L570.13,190.12 L570.13,191.66 L570.12,193.19 L570.11,194.73 L570.09,196.27 L570.07,197.81 L570.05,199.35 L570.02,200.88 L570.00,202.42 L569.97,203.96 L569.95,205.50 L569.93,207.03 L569.91,208.57 L569.90,210.11 L569.90,211.65 L569.90,213.19 L569.91,214.72 L569.92,216.26 L569.94,217.80 L569.96,219.34 L569.99,220.87 L570.01,222.41 L570.04,223.95 L570.06,225.49 L570.08,227.03 L570.11,228.56 L570.12,230.10 L570.14,231.64 L570.15,233.18 L570.16,234.71 L570.16,236.25 L570.16,237.79 L570.16,239.33 L570.15,240.87 L570.14,242.40 L570.13,243.94 L570.11,245.48 L570.09,247.02 L570.07,248.55 L570.04,250.09 L570.02,251.63 L569.99,253.17 L569.97,254.71 L569.94,256.24 L569.92,257.78 L569.91,259.32 L569.90,260.86 L569.90,262.39 L569.90,263.93 L569.91,265.47 L569.93,267.01 L569.95,268.55 L569.97,270.08 L569.99,271.62 L570.02,273.16 L570.04,274.70 L570.07,276.23 L570.09,277.77 L570.11,279.31 L570.13,280.85 L570.15,282.39 L570.16,283.92 Z" fill="#79bd9f" stroke="#4a4a4a" stroke-width="0.75" stroke-linejoin="round"/>
<line x1="568.70" x2="571.70" y1="61.05" y2="61.05" stroke="#ffffff" stroke-width="1.0"/>
<path d="M604.84,226.27 L604.86,225.14 L604.87,224.01 L604.89,222.88 L604.92,221.75 L604.94,220.62 L604.97,219.49 L605.00,218.37 L605.03,217.24 L605.05,216.11 L605.07,214.98 L605.09,213.85 L605.10,212.72 L605.10,211.59 L605.09,210.46 L605.08,209.33 L605.06,208.20 L605.04,207.08 L605.01,205.95 L604.98,204.82 L604.95,203.69 L604.93,202.56 L604.90,201.43 L604.88,200.30 L604.86,199.17 L604.84,198.04 L604.83,196.91 L604.82,195.79 L604.82,194.66 L604.81,193.53 L604.81,192.40 L604.80,191.27 L604.80,190.14 L604.80,189.01 L604.80,187.88 L604.80,186.75 L604.80,185.63 L604.80,184.50 L604.80,183.37 L604.80,182.24 L604.80,181.11 L604.81,179.98 L604.81,178.85 L604.82,177.72 L604.82,176.59 L604.83,175.46 L604.84,174.34 L604.85,173.21 L604.87,172.08 L604.89,170.95 L604.90,169.82 L604.92,168.69 L604.94,167.56 L604.96,166.43 L604.98,165.30 L604.99,164.17 L605.00,163.05 L605.00,161.92 L605.00,160.79 L604.99,159.66 L604.98,158.53 L604.97,157.40 L604.95,156.27 L604.93,155.14 L604.91,154.01 L604.89,152.89 L604.88,151.76 L604.86,150.63 L604.85,149.50 L604.84,148.37 L604.83,147.24 L604.82,146.11 L604.81,144.98 L604.81,143.85 L604.81,142.72 L604.80,141.60 L604.80,140.47 L604.80,139.34 L604.80,138.21 L604.80,137.08 L604.81,135.95 L604.81,134.82 L604.82,133.69 L604.83,132.56 L604.85,131.43 L604.88,130.31 L604.92,129.18 L604.97,128.05 L605.04,126.92 L605.14,125.79 L605.26,124.66 L605.41,123.53 L605.59,122.40 L605.79,121.27 L606.02,120.14 L606.26,119.02 L606.51,117.89 L606.75,116.76 L606.97,115.63 L607.16,114.50 L607.30,113.37 L607.38,112.24 L607.40,111.11 L607.35,109.98 L607.25,108.86 L607.08,107.73 L606.88,106.60 L606.65,105.47 L606.40,104.34 L606.16,103.21 L605.92,102.08 L605.70,100.95 L605.51,99.82 L605.34,98.69 L605.20,97.57 L605.09,96.44 L605.01,95.31 L604.94,94.18 L604.90,93.05 L604.87,91.92 L604.84,90.79 L604.83,89.66 L604.83,88.53 L604.83,87.40 L604.84,86.28 L604.86,85.15 L604.90,84.02 L604.96,82.89 L605.06,81.76 L605.21,80.63 L605.42,79.50 L605.72,78.37 L606.13,77.24 L606.68,76.12 L607.40,74.99 L608.29,73.86 L609.37,72.73 L610.65,71.60 L612.09,70.47 L613.67,69.34 L615.33,68.21 L616.98,67.08 L618.55,65.95 L619.93,64.83 L621.05,63.70 L621.81,62.57 L622.17,61.44 L622.11,60.31 L621.61,59.18 L620.73,58.05 L619.53,56.92 L618.07,55.79 L616.47,54.66 L614.81,53.54 L613.17,52.41 L611.63,51.28 L610.23,50.15 L609.01,49.02 L607.99,47.89 L607.15,46.76 L602.45,46.76 L601.61,47.89 L600.59,49.02 L599.37,50.15 L597.97,51.28 L596.43,52.41 L594.79,53.54 L593.13,54.66 L591.53,55.79 L590.07,56.92 L588.87,58.05 L587.99,59.18 L587.49,60.31 L587.43,61.44 L587.79,62.57 L588.55,63.70 L589.67,64.83 L591.05,65.95 L592.62,67.08 L594.27,68.21 L595.93,69.34 L597.51,70.47 L598.95,71.60 L600.23,72.73 L601.31,73.86 L602.20,74.99 L602.92,76.12 L603.47,77.24 L603.88,78.37 L604.18,79.50 L604.39,80.63 L604.54,81.76 L604.64,82.89 L604.70,84.02 L604.74,85.15 L604.76,86.28 L604.77,87.40 L604.77,88.53 L604.77,89.66 L604.76,90.79 L604.73,91.92 L604.70,93.05 L604.66,94.18 L604.59,95.31 L604.51,96.44 L604.40,97.57 L604.26,98.69 L604.09,99.82 L603.90,100.95 L603.68,102.08 L603.44,103.21 L603.20,104.34 L602.95,105.47 L602.72,106.60 L602.52,107.73 L602.35,108.86 L602.25,109.98 L602.20,111.11 L602.22,112.24 L602.30,113.37 L602.44,114.50 L602.63,115.63 L602.85,116.76 L603.09,117.89 L603.34,119.02 L603.58,120.14 L603.81,121.27 L604.01,122.40 L604.19,123.53 L604.34,124.66 L604.46,125.79 L604.56,126.92 L604.63,128.05 L604.68,129.18 L604.72,130.31 L604.75,131.43 L604.77,132.56 L604.78,133.69 L604.79,134.82 L604.79,135.95 L604.80,137.08 L604.80,138.21 L604.80,139.34 L604.80,140.47 L604.80,141.60 L604.79,142.72 L604.79,143.85 L604.79,144.98 L604.78,146.11 L604.77,147.24 L604.76,148.37 L604.75,149.50 L604.74,150.63 L604.72,151.76 L604.71,152.89 L604.69,154.01 L604.67,155.14 L604.65,156.27 L604.63,157.40 L604.62,158.53 L604.61,159.66 L604.60,160.79 L604.60,161.92 L604.60,163.05 L604.61,164.17 L604.62,165.30 L604.64,166.43 L604.66,167.56 L604.68,168.69 L604.70,169.82 L604.71,170.95 L604.73,172.08 L604.75,173.21 L604.76,174.34 L604.77,175.46 L604.78,176.59 L604.78,177.72 L604.79,178.85 L604.79,179.98 L604.80,181.11 L604.80,182.24 L604.80,183.37 L604.80,184.50 L604.80,185.63 L604.80,186.75 L604.80,187.88 L604.80,189.01 L604.80,190.14 L604.80,191.27 L604.79,192.40 L604.79,193.53 L604.78,194.66 L604.78,195.79 L604.77,196.91 L604.76,198.04 L604.74,199.17 L604.72,200.30 L604.70,201.43 L604.67,202.56 L604.65,203.69 L604.62,204.82 L604.59,205.95 L604.56,207.08 L604.54,208.20 L604.52,209.33 L604.51,210.46 L604.50,211.59 L604.50,212.72 L604.51,213.85 L604.53,214.98 L604.55,216.11 L604.57,217.24 L604.60,218.37 L604.63,219.49 L604.66,220.62 L604.68,221.75 L604.71,222.88 L604.73,224.01 L604.74,225.14 L604.76,226.27 Z" fill="#e68e6c" stroke="#4a4a4a" stroke-width="0.75" stroke-linejoin="round"/>
<line x1="603.30" x2="606.30" y1="61.05" y2="61.05" stroke="#ffffff" stroke-width="1.0"/>
<path d="M639.44,288.35 L639.45,286.76 L639.46,285.16 L639.48,283.57 L639.50,281.98 L639.51,280.38 L639.53,278.79 L639.56,277.20 L639.58,275.60 L639.60,274.01 L639.62,272.42 L639.64,270.82 L639.66,269.23 L639.68,267.64 L639.69,266.04 L639.70,264.45 L639.70,262.86 L639.70,261.26 L639.70,259.67 L639.69,258.07 L639.68,256.48 L639.66,254.89 L639.64,253.29 L639.63,251.70 L639.61,250.11 L639.60,248.51 L639.58,246.92 L639.57,245.33 L639.57,243.73 L639.57,242.14 L639.58,240.55 L639.60,238.95 L639.63,237.36 L639.66,235.77 L639.71,234.17 L639.77,232.58 L639.83,230.99 L639.90,229.39 L639.98,227.80 L640.07,226.21 L640.15,224.61 L640.24,223.02 L640.32,221.42 L640.40,219.83 L640.47,218.24 L640.53,216.64 L640.57,215.05 L640.59,213.46 L640.60,211.86 L640.59,210.27 L640.56,208.68 L640.52,207.08 L640.46,205.49 L640.40,203.90 L640.32,202.30 L640.24,200.71 L640.15,199.12 L640.07,197.52 L640.00,195.93 L639.93,194.34 L639.87,192.74 L639.82,191.15 L639.78,189.56 L639.76,187.96 L639.76,186.37 L639.76,184.78 L639.79,183.18 L639.82,181.59 L639.87,179.99 L639.93,178.40 L639.99,176.81 L640.06,175.21 L640.14,173.62 L640.21,172.03 L640.28,170.43 L640.35,168.84 L640.41,167.25 L640.45,165.65 L640.48,164.06 L640.50,162.47 L640.50,160.87 L640.48,159.28 L640.45,157.69 L640.41,156.09 L640.35,154.50 L640.29,152.91 L640.21,151.31 L640.14,149.72 L640.07,148.13 L640.00,146.53 L639.93,144.94 L639.88,143.35 L639.83,141.75 L639.80,140.16 L639.79,138.56 L639.79,136.97 L639.80,135.38 L639.83,133.78 L639.88,132.19 L639.93,130.60 L640.01,129.00 L640.09,127.41 L640.18,125.82 L640.28,124.22 L640.38,122.63 L640.47,121.04 L640.56,119.44 L640.64,117.85 L640.71,116.26 L640.76,114.66 L640.79,113.07 L640.81,111.48 L640.80,109.88 L640.78,108.29 L640.74,106.70 L640.69,105.10 L640.64,103.51 L640.58,101.92 L640.53,100.32 L640.49,98.73 L640.48,97.13 L640.50,95.54 L640.56,93.95 L640.68,92.35 L640.86,90.76 L641.12,89.17 L641.47,87.57 L641.90,85.98 L642.44,84.39 L643.08,82.79 L643.82,81.20 L644.66,79.61 L645.58,78.01 L646.57,76.42 L647.60,74.83 L648.66,73.23 L649.69,71.64 L650.68,70.05 L651.58,68.45 L652.35,66.86 L652.97,65.27 L653.42,63.67 L653.66,62.08 L653.69,60.48 L653.51,58.89 L653.12,57.30 L652.55,55.70 L651.81,54.11 L650.94,52.52 L649.97,50.92 L648.94,49.33 L647.89,47.74 L646.83,46.14 L645.81,44.55 L644.85,42.96 L643.97,41.36 L643.17,39.77 L642.46,38.18 L641.85,36.58 L641.34,34.99 L637.46,34.99 L636.95,36.58 L636.34,38.18 L635.63,39.77 L634.83,41.36 L633.95,42.96 L632.99,44.55 L631.97,46.14 L630.91,47.74 L629.86,49.33 L628.83,50.92 L627.86,52.52 L626.99,54.11 L626.25,55.70 L625.68,57.30 L625.29,58.89 L625.11,60.48 L625.14,62.08 L625.38,63.67 L625.83,65.27 L626.45,66.86 L627.22,68.45 L628.12,70.05 L629.11,71.64 L630.14,73.23 L631.20,74.83 L632.23,76.42 L633.22,78.01 L634.14,79.61 L634.98,81.20 L635.72,82.79 L636.36,84.39 L636.90,85.98 L637.33,87.57 L637.68,89.17 L637.94,90.76 L638.12,92.35 L638.24,93.95 L638.30,95.54 L638.32,97.13 L638.31,98.73 L638.27,100.32 L638.22,101.92 L638.16,103.51 L638.11,105.10 L638.06,106.70 L638.02,108.29 L638.00,109.88 L637.99,111.48 L638.01,113.07 L638.04,114.66 L638.09,116.26 L638.16,117.85 L638.24,119.44 L638.33,121.04 L638.42,122.63 L638.52,124.22 L638.62,125.82 L638.71,127.41 L638.79,129.00 L638.87,130.60 L638.92,132.19 L638.97,133.78 L639.00,135.38 L639.01,136.97 L639.01,138.56 L639.00,140.16 L638.97,141.75 L638.92,143.35 L638.87,144.94 L638.80,146.53 L638.73,148.13 L638.66,149.72 L638.59,151.31 L638.51,152.91 L638.45,154.50 L638.39,156.09 L638.35,157.69 L638.32,159.28 L638.30,160.87 L638.30,162.47 L638.32,164.06 L638.35,165.65 L638.39,167.25 L638.45,168.84 L638.52,170.43 L638.59,172.03 L638.66,173.62 L638.74,175.21 L638.81,176.81 L638.87,178.40 L638.93,179.99 L638.98,181.59 L639.01,183.18 L639.04,184.78 L639.04,186.37 L639.04,187.96 L639.02,189.56 L638.98,191.15 L638.93,192.74 L638.87,194.34 L638.80,195.93 L638.73,197.52 L638.65,199.12 L638.56,200.71 L638.48,202.30 L638.40,203.90 L638.34,205.49 L638.28,207.08 L638.24,208.68 L638.21,210.27 L638.20,211.86 L638.21,213.46 L638.23,215.05 L638.27,216.64 L638.33,218.24 L638.40,219.83 L638.48,221.42 L638.56,223.02 L638.65,224.61 L638.73,226.21 L638.82,227.80 L638.90,229.39 L638.97,230.99 L639.03,232.58 L639.09,234.17 L639.14,235.77 L639.17,237.36 L639.20,238.95 L639.22,240.55 L639.23,242.14 L639.23,243.73 L639.23,245.33 L639.22,246.92 L639.20,248.51 L639.19,250.11 L639.17,251.70 L639.16,253.29 L639.14,254.89 L639.12,256.48 L639.11,258.07 L639.10,259.67 L639.10,261.26 L639.10,262.86 L639.10,264.45 L639.11,266.04 L639.12,267.64 L639.14,269.23 L639.16,270.82 L639.18,272.42 L639.20,274.01 L639.22,275.60 L639.24,277.20 L639.27,278.79 L639.29,280.38 L639.30,281.98 L639.32,283.57 L639.34,285.16 L639.35,286.76 L639.36,288.35 Z" fill="#93a4c6" stroke="#4a4a4a" stroke-width="0.75" stroke-linejoin="round"/>
<line x1="637.90" x2="640.90" y1="61.05" y2="61.05" stroke="#ffffff" stroke-width="1.0"/>
<rect x="53.45" y="123.70" width="12.8" height="7.0" rx="1.5" fill="#fff" fill-opacity="0.9"/>
<text x="59.85" y="128.90" class="ml">3.54</text>
<circle cx="59.85" cy="134.50" r="2.1" fill="#fff" stroke="#000" stroke-width="1.2"/>
<rect x="79.40" y="144.83" width="12.8" height="7.0" rx="1.5" fill="#fff" fill-opacity="0.9"/>
<text x="85.80" y="150.03" class="ml">3.12</text>
<circle cx="85.80" cy="155.63" r="2.1" fill="#fff" stroke="#000" stroke-width="1.2"/>
<rect x="105.35" y="129.74" width="12.8" height="7.0" rx="1.5" fill="#fff" fill-opacity="0.9"/>
<text x="111.75" y="134.94" class="ml">3.42</text>
<circle cx="111.75" cy="140.54" r="2.1" fill="#fff" stroke="#000" stroke-width="1.2"/>
<rect x="183.20" y="88.99" width="12.8" height="7.0" rx="1.5" fill="#fff" fill-opacity="0.9"/>
<text x="189.60" y="94.19" class="ml">4.23</text>
<circle cx="189.60" cy="99.79" r="2.1" fill="#fff" stroke="#000" stroke-width="1.2"/>
<rect x="209.15" y="232.88" width="12.8" height="7.0" rx="1.5" fill="#fff" fill-opacity="0.9"/>
<text x="215.55" y="238.08" class="ml">1.37</text>
<circle cx="215.55" cy="243.68" r="2.1" fill="#fff" stroke="#000" stroke-width="1.2"/>
<rect x="235.10" y="236.90" width="12.8" height="7.0" rx="1.5" fill="#fff" fill-opacity="0.9"/>
<text x="241.50" y="242.10" class="ml">1.29</text>
<circle cx="241.50" cy="247.70" r="2.1" fill="#fff" stroke="#000" stroke-width="1.2"/>
<rect x="312.95" y="112.63" width="12.8" height="7.0" rx="1.5" fill="#fff" fill-opacity="0.9"/>
<text x="319.35" y="117.83" class="ml">3.76</text>
<circle cx="319.35" cy="123.43" r="2.1" fill="#fff" stroke="#000" stroke-width="1.2"/>
<rect x="338.90" y="126.72" width="12.8" height="7.0" rx="1.5" fill="#fff" fill-opacity="0.9"/>
<text x="345.30" y="131.92" class="ml">3.48</text>
<circle cx="345.30" cy="137.52" r="2.1" fill="#fff" stroke="#000" stroke-width="1.2"/>
<rect x="364.85" y="161.94" width="12.8" height="7.0" rx="1.5" fill="#fff" fill-opacity="0.9"/>
<text x="371.25" y="167.14" class="ml">2.78</text>
<circle cx="371.25" cy="172.74" r="2.1" fill="#fff" stroke="#000" stroke-width="1.2"/>
<rect x="442.70" y="241.93" width="12.8" height="7.0" rx="1.5" fill="#fff" fill-opacity="0.9"/>
<text x="449.10" y="247.13" class="ml">1.19</text>
<circle cx="449.10" cy="252.73" r="2.1" fill="#fff" stroke="#000" stroke-width="1.2"/>
<rect x="468.65" y="166.47" width="12.8" height="7.0" rx="1.5" fill="#fff" fill-opacity="0.9"/>
<text x="475.05" y="171.67" class="ml">2.69</text>
<circle cx="475.05" cy="177.27" r="2.1" fill="#fff" stroke="#000" stroke-width="1.2"/>
<rect x="494.60" y="140.81" width="12.8" height="7.0" rx="1.5" fill="#fff" fill-opacity="0.9"/>
<text x="501.00" y="146.01" class="ml">3.20</text>
<circle cx="501.00" cy="151.61" r="2.1" fill="#fff" stroke="#000" stroke-width="1.2"/>
<rect x="572.45" y="65.34" width="12.8" height="7.0" rx="1.5" fill="#fff" fill-opacity="0.9"/>
<text x="578.85" y="70.54" class="ml">4.70</text>
<circle cx="578.85" cy="76.14" r="2.1" fill="#fff" stroke="#000" stroke-width="1.2"/>
<rect x="598.40" y="57.80" width="12.8" height="7.0" rx="1.5" fill="#fff" fill-opacity="0.9"/>
<text x="604.80" y="63.00" class="ml">4.85</text>
<circle cx="604.80" cy="68.60" r="2.1" fill="#fff" stroke="#000" stroke-width="1.2"/>
<rect x="624.35" y="66.35" width="12.8" height="7.0" rx="1.5" fill="#fff" fill-opacity="0.9"/>
<text x="630.75" y="71.55" class="ml">4.68</text>
<circle cx="630.75" cy="77.15" r="2.1" fill="#fff" stroke="#000" stroke-width="1.2"/>
<text x="351.0" y="7.3" class="ttl">Value Distribution of Different Methods &amp; Metrics</text>
<text x="351.0" y="333.8" class="lab" style="font-size:9px;letter-spacing:0.4px">Model</text>
<text transform="translate(6.2,160.6) rotate(-90)" class="lab" style="font-size:7.2px">Score (1-5)</text>
<text transform="translate(85.80,322.7) scale(1,1.13)" class="xt">VGG19</text>
<text transform="translate(215.55,322.7) scale(1,1.13)" class="xt">CycleGAN</text>
<text transform="translate(345.30,322.7) scale(1,1.13)" class="xt">AdaIN</text>
<text transform="translate(475.05,322.7) scale(1,1.13)" class="xt">Cross-Image-Attention</text>
<text transform="translate(604.80,322.7) scale(1,1.13)" class="xt">Ours</text>
<rect x="584.6" y="13.7" width="95.7" height="44.9" rx="1.8" fill="#fff" fill-opacity="0.8" stroke="#d6d6d6" stroke-width="0.7"/>
<text x="632.7" y="20.4" class="lg" text-anchor="middle">Metric</text>
<rect x="587.3" y="24.50" width="12.3" height="4.6" fill="#79bd9f" stroke="#3d3d3d" stroke-width="0.6"/>
<text x="604.1" y="29.10" class="lg">Color fidelity</text>
<rect x="587.3" y="33.10" width="12.3" height="4.6" fill="#e68e6c" stroke="#3d3d3d" stroke-width="0.6"/>
<text x="604.1" y="37.70" class="lg">Craftsmanship reproduction</text>
<rect x="587.3" y="41.70" width="12.3" height="4.6" fill="#93a4c6" stroke="#3d3d3d" stroke-width="0.6"/>
<text x="604.1" y="46.30" class="lg">Material texture</text>
<circle cx="593.3" cy="52.60" r="2.3" fill="#fff" stroke="#000" stroke-width="1.1"/>
<text x="604.1" y="54.90" class="lg">Mean</text>
</svg>
</body></html>
